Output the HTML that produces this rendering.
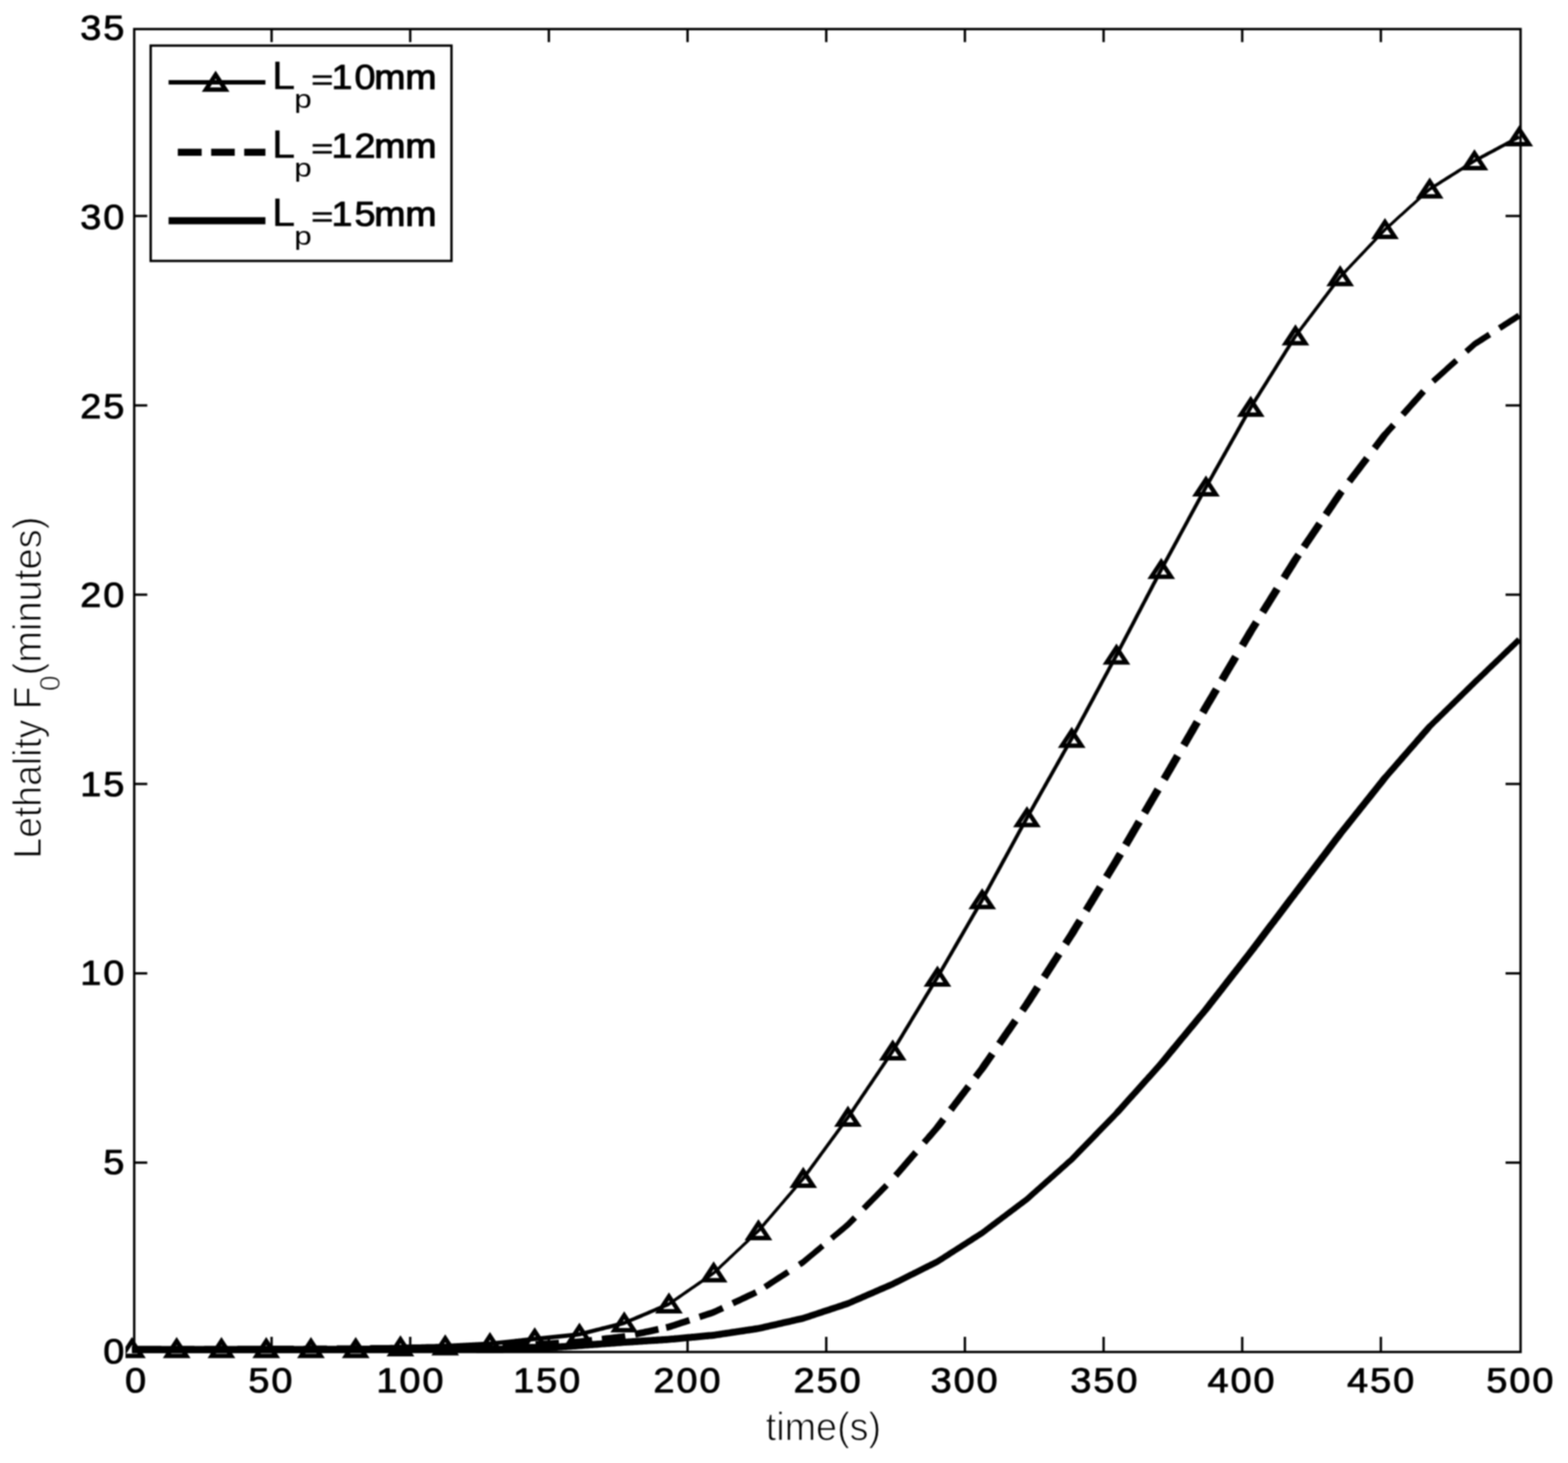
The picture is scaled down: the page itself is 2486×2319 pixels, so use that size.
<!DOCTYPE html>
<html lang="en"><head><meta charset="utf-8"><title>Lethality F0 versus time</title>
<style>html,body{margin:0;padding:0;background:#fff}body{width:2486px;height:2319px;overflow:hidden}svg{display:block;filter:blur(0.8px)}text{font-family:"Liberation Sans",sans-serif;fill:#000}.b{stroke:#000;stroke-width:1.25px;stroke-linejoin:round;letter-spacing:2.85px}.t{stroke:#fff;stroke-width:1.5px}</style></head><body>
<svg width="2486" height="2319" viewBox="0 0 2486 2319">
<rect x="0" y="0" width="2486" height="2319" fill="#fff"/>
<g fill="#000" stroke="none">
<path d="M209.2,2141.4 L211.6,2141.4 L214.1,2141.4 L216.5,2141.4 L219.0,2141.4 L221.4,2141.4 L223.9,2141.4 L226.3,2141.4 L228.8,2141.4 L231.2,2141.4 L233.7,2141.4 L236.1,2141.4 L238.6,2141.4 L241.0,2141.4 L243.5,2141.4 L245.9,2141.4 L248.3,2141.4 L250.8,2141.4 L253.2,2141.4 L255.7,2141.4 L258.1,2141.4 L260.6,2141.4 L263.0,2141.4 L265.5,2141.4 L267.9,2141.4 L270.4,2141.4 L272.8,2141.4 L275.3,2141.4 L277.7,2141.4 L280.1,2141.4 L282.6,2141.4 L285.0,2141.4 L287.5,2141.4 L289.9,2141.4 L292.4,2141.4 L294.8,2141.4 L297.3,2141.4 L299.7,2141.4 L302.2,2141.4 L304.6,2141.4 L307.1,2141.4 L309.5,2141.4 L312.0,2141.4 L314.4,2141.4 L316.8,2141.4 L319.3,2141.4 L321.7,2141.4 L324.2,2141.4 L326.6,2141.4 L329.1,2141.4 L331.5,2141.4 L334.0,2141.4 L336.4,2141.4 L338.9,2141.4 L341.3,2141.4 L343.8,2141.4 L346.2,2141.4 L348.7,2141.4 L351.1,2141.4 L353.5,2141.4 L356.0,2141.4 L358.4,2141.4 L360.9,2141.4 L363.3,2141.4 L365.8,2141.4 L368.2,2141.4 L370.7,2141.4 L373.1,2141.4 L375.6,2141.4 L378.0,2141.4 L380.5,2141.4 L382.9,2141.4 L385.4,2141.4 L387.8,2141.4 L390.2,2141.4 L392.7,2141.4 L395.1,2141.4 L397.6,2141.4 L400.0,2141.4 L402.5,2141.4 L404.9,2141.4 L407.4,2141.4 L409.8,2141.4 L412.3,2141.4 L414.7,2141.4 L417.2,2141.4 L419.6,2141.4 L422.1,2141.4 L424.5,2141.4 L426.9,2141.4 L429.4,2141.4 L431.8,2141.4 L434.3,2141.4 L436.7,2141.4 L439.2,2141.4 L441.6,2141.4 L444.1,2141.4 L446.5,2141.4 L449.0,2141.4 L451.4,2141.4 L453.9,2141.4 L456.3,2141.4 L458.7,2141.4 L461.2,2141.4 L463.6,2141.4 L466.1,2141.4 L468.5,2141.4 L471.0,2141.4 L473.4,2141.4 L475.9,2141.4 L478.3,2141.4 L480.8,2141.4 L483.2,2141.4 L485.7,2141.4 L488.1,2141.4 L490.6,2141.4 L493.0,2141.4 L495.4,2141.4 L497.9,2141.4 L500.3,2141.4 L502.8,2141.4 L505.2,2141.4 L507.7,2141.4 L510.1,2141.4 L512.6,2141.4 L515.0,2141.4 L517.5,2141.4 L519.9,2141.4 L522.4,2141.4 L524.8,2141.4 L527.3,2141.4 L529.7,2141.4 L532.1,2141.4 L534.6,2141.4 L537.0,2141.4 L539.5,2141.4 L541.9,2141.4 L544.4,2141.4 L546.8,2141.4 L549.3,2141.4 L551.7,2141.4 L554.2,2141.4 L556.6,2141.4 L559.1,2141.4 L561.5,2141.4 L564.0,2141.4 L566.5,2141.3 L569.0,2141.2 L571.4,2141.1 L573.9,2141.0 L576.3,2140.9 L578.8,2140.8 L581.2,2140.7 L583.7,2140.6 L586.1,2140.5 L588.6,2140.4 L591.0,2140.3 L593.4,2140.2 L595.9,2140.1 L598.3,2140.0 L600.8,2139.9 L603.2,2139.8 L605.7,2139.7 L608.1,2139.6 L610.6,2139.5 L613.0,2139.4 L615.5,2139.3 L617.9,2139.2 L620.4,2139.1 L622.8,2139.0 L625.3,2138.9 L627.7,2138.8 L630.1,2138.7 L632.6,2138.6 L635.0,2138.5 L637.4,2138.4 L639.9,2138.4 L642.3,2138.3 L644.8,2138.3 L647.2,2138.2 L649.7,2138.2 L652.1,2138.1 L654.5,2138.1 L657.0,2138.0 L659.4,2138.0 L661.9,2137.9 L664.3,2137.9 L666.8,2137.8 L669.2,2137.8 L671.7,2137.7 L674.1,2137.6 L676.6,2137.6 L679.0,2137.5 L681.5,2137.5 L683.9,2137.4 L686.4,2137.4 L688.8,2137.3 L691.2,2137.3 L693.7,2137.2 L696.1,2137.2 L698.6,2137.1 L701.0,2137.1 L703.5,2137.0 L706.0,2137.0 L708.5,2136.8 L710.9,2136.7 L713.4,2136.6 L715.8,2136.4 L718.3,2136.3 L720.7,2136.2 L723.2,2136.1 L725.6,2135.9 L728.0,2135.8 L730.5,2135.7 L732.9,2135.6 L735.4,2135.4 L737.8,2135.3 L740.3,2135.2 L742.7,2135.1 L745.2,2135.0 L747.6,2134.8 L750.1,2134.7 L752.5,2134.6 L755.0,2134.5 L757.4,2134.3 L759.8,2134.2 L762.3,2134.1 L764.7,2134.0 L767.2,2133.8 L769.6,2133.7 L772.1,2133.6 L774.5,2133.5 L777.1,2133.3 L779.6,2133.0 L782.0,2132.7 L784.5,2132.5 L786.9,2132.2 L789.4,2132.0 L791.8,2131.7 L794.3,2131.5 L796.7,2131.2 L799.2,2130.9 L801.6,2130.7 L804.1,2130.4 L806.5,2130.2 L809.0,2129.9 L811.4,2129.6 L813.9,2129.4 L816.3,2129.1 L818.7,2128.9 L821.2,2128.6 L823.6,2128.3 L826.1,2128.1 L828.5,2127.8 L831.0,2127.6 L833.4,2127.3 L835.9,2127.1 L838.3,2126.8 L840.8,2126.5 L843.2,2126.3 L845.7,2126.0 L848.1,2125.8 L850.5,2125.5 L853.0,2125.3 L855.4,2125.0 L857.9,2124.7 L860.3,2124.5 L862.8,2124.2 L865.2,2124.0 L867.7,2123.7 L870.1,2123.5 L872.6,2123.2 L875.0,2123.0 L877.5,2122.7 L879.9,2122.4 L882.4,2122.2 L884.8,2121.9 L887.2,2121.7 L889.7,2121.4 L892.1,2121.2 L894.6,2120.9 L897.0,2120.7 L899.5,2120.4 L901.9,2120.1 L904.4,2119.9 L906.8,2119.6 L909.3,2119.4 L911.7,2119.1 L914.2,2118.9 L916.6,2118.6 L919.3,2118.2 L921.9,2117.5 L924.4,2116.9 L926.8,2116.3 L929.3,2115.7 L931.7,2115.0 L934.2,2114.4 L936.6,2113.8 L939.1,2113.2 L941.5,2112.6 L944.0,2111.9 L946.4,2111.3 L948.8,2110.7 L951.3,2110.1 L953.7,2109.5 L956.2,2108.9 L958.6,2108.2 L961.1,2107.6 L963.5,2107.0 L966.0,2106.4 L968.4,2105.8 L970.9,2105.2 L973.3,2104.5 L975.8,2103.9 L978.2,2103.3 L980.7,2102.7 L983.1,2102.1 L985.5,2101.5 L988.0,2100.8 L990.6,2100.0 L993.2,2098.7 L995.7,2097.7 L998.1,2096.7 L1000.6,2095.6 L1003.0,2094.6 L1005.5,2093.5 L1007.9,2092.5 L1010.4,2091.5 L1012.8,2090.4 L1015.3,2089.4 L1017.7,2088.4 L1020.1,2087.3 L1022.6,2086.3 L1025.0,2085.2 L1027.5,2084.2 L1029.9,2083.2 L1032.4,2082.1 L1034.8,2081.1 L1037.3,2080.1 L1039.7,2079.0 L1042.2,2078.0 L1044.6,2076.9 L1047.1,2075.9 L1049.5,2074.9 L1051.9,2073.8 L1054.4,2072.8 L1056.8,2071.8 L1059.3,2070.7 L1061.9,2069.3 L1064.5,2067.4 L1066.9,2065.7 L1069.4,2064.0 L1071.8,2062.3 L1074.2,2060.6 L1076.7,2058.9 L1079.1,2057.2 L1081.6,2055.5 L1084.0,2053.8 L1086.5,2052.1 L1088.9,2050.4 L1091.4,2048.7 L1093.8,2047.0 L1096.3,2045.3 L1098.7,2043.6 L1101.2,2042.0 L1103.6,2040.3 L1106.1,2038.6 L1108.5,2036.9 L1110.9,2035.2 L1113.4,2033.5 L1115.8,2031.8 L1118.3,2030.1 L1120.7,2028.4 L1123.2,2026.7 L1125.6,2025.0 L1128.1,2023.3 L1130.5,2021.6 L1133.0,2019.7 L1135.6,2017.3 L1138.1,2015.0 L1140.5,2012.7 L1143.0,2010.4 L1145.4,2008.1 L1147.9,2005.8 L1150.3,2003.5 L1152.7,2001.2 L1155.2,1998.9 L1157.6,1996.6 L1160.1,1994.2 L1162.5,1991.9 L1165.0,1989.6 L1167.4,1987.3 L1169.9,1985.0 L1172.3,1982.7 L1174.8,1980.4 L1177.2,1978.1 L1179.7,1975.8 L1182.1,1973.5 L1184.6,1971.2 L1187.0,1968.9 L1189.4,1966.6 L1191.9,1964.3 L1194.3,1961.9 L1196.8,1959.6 L1199.2,1957.3 L1201.7,1955.0 L1204.3,1952.7 L1206.8,1949.8 L1209.3,1946.9 L1211.7,1944.1 L1214.2,1941.2 L1216.6,1938.3 L1219.1,1935.5 L1221.5,1932.6 L1224.0,1929.8 L1226.4,1926.9 L1228.9,1924.1 L1231.3,1921.2 L1233.7,1918.4 L1236.2,1915.5 L1238.6,1912.6 L1241.1,1909.8 L1243.5,1906.9 L1246.0,1904.1 L1248.4,1901.2 L1250.9,1898.4 L1253.3,1895.5 L1255.8,1892.7 L1258.2,1889.8 L1260.7,1887.0 L1263.1,1884.1 L1265.6,1881.2 L1268.0,1878.4 L1270.4,1875.5 L1272.9,1872.7 L1275.5,1869.8 L1278.0,1866.4 L1280.5,1863.1 L1282.9,1859.7 L1285.4,1856.4 L1287.8,1853.0 L1290.3,1849.7 L1292.7,1846.4 L1295.2,1843.0 L1297.6,1839.7 L1300.1,1836.3 L1302.5,1833.0 L1304.9,1829.6 L1307.4,1826.3 L1309.8,1822.9 L1312.3,1819.6 L1314.7,1816.2 L1317.2,1812.9 L1319.6,1809.6 L1322.1,1806.2 L1324.5,1802.9 L1327.0,1799.5 L1329.4,1796.2 L1331.9,1792.8 L1334.3,1789.5 L1336.8,1786.1 L1339.2,1782.8 L1341.6,1779.5 L1344.1,1776.1 L1346.6,1772.7 L1349.1,1769.1 L1351.6,1765.5 L1354.0,1761.9 L1356.5,1758.2 L1358.9,1754.6 L1361.3,1751.0 L1363.8,1747.4 L1366.2,1743.7 L1368.7,1740.1 L1371.1,1736.5 L1373.6,1732.9 L1376.0,1729.2 L1378.5,1725.6 L1380.9,1722.0 L1383.4,1718.4 L1385.8,1714.7 L1388.3,1711.1 L1390.7,1707.5 L1393.2,1703.9 L1395.6,1700.2 L1398.0,1696.6 L1400.5,1693.0 L1402.9,1689.4 L1405.4,1685.8 L1407.8,1682.1 L1410.3,1678.5 L1412.7,1674.9 L1415.2,1671.3 L1417.7,1667.6 L1420.2,1663.5 L1422.7,1659.5 L1425.1,1655.5 L1427.6,1651.4 L1430.0,1647.4 L1432.5,1643.4 L1434.9,1639.3 L1437.4,1635.3 L1439.8,1631.2 L1442.3,1627.2 L1444.7,1623.2 L1447.1,1619.1 L1449.6,1615.1 L1452.0,1611.0 L1454.5,1607.0 L1456.9,1603.0 L1459.4,1598.9 L1461.8,1594.9 L1464.3,1590.9 L1466.7,1586.8 L1469.2,1582.8 L1471.6,1578.7 L1474.1,1574.7 L1476.5,1570.7 L1479.0,1566.6 L1481.4,1562.6 L1483.8,1558.6 L1486.3,1554.5 L1488.8,1550.5 L1491.3,1546.2 L1493.7,1542.0 L1496.1,1537.8 L1498.6,1533.5 L1501.0,1529.3 L1503.5,1525.1 L1505.9,1520.8 L1508.4,1516.6 L1510.8,1512.4 L1513.3,1508.1 L1515.7,1503.9 L1518.2,1499.7 L1520.6,1495.4 L1523.1,1491.2 L1525.5,1487.0 L1528.0,1482.8 L1530.4,1478.5 L1532.8,1474.3 L1535.3,1470.1 L1537.7,1465.8 L1540.2,1461.6 L1542.6,1457.4 L1545.1,1453.1 L1547.5,1448.9 L1550.0,1444.7 L1552.4,1440.4 L1554.9,1436.2 L1557.3,1432.0 L1559.8,1427.7 L1562.3,1423.2 L1564.7,1418.7 L1567.1,1414.2 L1569.6,1409.8 L1572.0,1405.3 L1574.5,1400.8 L1576.9,1396.3 L1579.4,1391.8 L1581.8,1387.3 L1584.3,1382.9 L1586.7,1378.4 L1589.2,1373.9 L1591.6,1369.4 L1594.1,1364.9 L1596.5,1360.5 L1599.0,1356.0 L1601.4,1351.5 L1603.8,1347.0 L1606.3,1342.5 L1608.7,1338.0 L1611.2,1333.6 L1613.6,1329.1 L1616.1,1324.6 L1618.5,1320.1 L1621.0,1315.6 L1623.4,1311.1 L1625.9,1306.7 L1628.3,1302.2 L1630.7,1297.7 L1633.2,1293.4 L1635.6,1289.1 L1638.1,1284.7 L1640.5,1280.4 L1643.0,1276.0 L1645.4,1271.7 L1647.9,1267.4 L1650.3,1263.0 L1652.7,1258.7 L1655.2,1254.3 L1657.6,1250.0 L1660.1,1245.7 L1662.5,1241.3 L1665.0,1237.0 L1667.4,1232.7 L1669.9,1228.3 L1672.3,1224.0 L1674.8,1219.6 L1677.2,1215.3 L1679.7,1211.0 L1682.1,1206.6 L1684.6,1202.3 L1687.0,1198.0 L1689.4,1193.6 L1691.9,1189.3 L1694.3,1184.9 L1696.8,1180.6 L1699.2,1176.3 L1701.7,1171.9 L1704.2,1167.3 L1706.6,1162.8 L1709.1,1158.2 L1711.5,1153.7 L1713.9,1149.1 L1716.4,1144.6 L1718.8,1140.0 L1721.3,1135.5 L1723.7,1130.9 L1726.2,1126.4 L1728.6,1121.8 L1731.1,1117.3 L1733.5,1112.7 L1736.0,1108.2 L1738.4,1103.6 L1740.9,1099.1 L1743.3,1094.5 L1745.8,1089.9 L1748.2,1085.4 L1750.6,1080.8 L1753.1,1076.3 L1755.5,1071.7 L1758.0,1067.2 L1760.4,1062.6 L1762.9,1058.1 L1765.3,1053.5 L1767.8,1049.0 L1770.2,1044.4 L1772.7,1039.9 L1775.1,1035.2 L1777.6,1030.5 L1780.0,1025.8 L1782.5,1021.1 L1784.9,1016.5 L1787.4,1011.8 L1789.8,1007.1 L1792.3,1002.4 L1794.7,997.7 L1797.2,993.1 L1799.6,988.4 L1802.0,983.7 L1804.5,979.0 L1806.9,974.3 L1809.4,969.7 L1811.8,965.0 L1814.3,960.3 L1816.7,955.6 L1819.2,950.9 L1821.6,946.3 L1824.1,941.6 L1826.5,936.9 L1829.0,932.2 L1831.4,927.5 L1833.9,922.9 L1836.3,918.2 L1838.7,913.5 L1841.2,908.8 L1843.6,904.2 L1846.1,899.7 L1848.5,895.2 L1850.9,890.7 L1853.4,886.2 L1855.8,881.7 L1858.3,877.2 L1860.7,872.7 L1863.2,868.2 L1865.6,863.7 L1868.1,859.2 L1870.5,854.7 L1873.0,850.1 L1875.4,845.6 L1877.9,841.1 L1880.3,836.6 L1882.8,832.1 L1885.2,827.6 L1887.6,823.1 L1890.1,818.6 L1892.5,814.1 L1895.0,809.6 L1897.4,805.1 L1899.9,800.6 L1902.3,796.1 L1904.8,791.6 L1907.2,787.1 L1909.7,782.6 L1912.1,778.1 L1914.5,773.6 L1917.0,769.3 L1919.4,764.9 L1921.9,760.6 L1924.3,756.2 L1926.8,751.8 L1929.2,747.5 L1931.7,743.1 L1934.1,738.8 L1936.6,734.4 L1939.0,730.1 L1941.4,725.7 L1943.9,721.4 L1946.3,717.0 L1948.8,712.7 L1951.2,708.3 L1953.7,703.9 L1956.1,699.6 L1958.6,695.2 L1961.0,690.9 L1963.5,686.5 L1965.9,682.2 L1968.4,677.8 L1970.8,673.5 L1973.3,669.1 L1975.7,664.7 L1978.1,660.4 L1980.6,656.0 L1983.0,651.7 L1985.4,647.4 L1987.8,643.5 L1990.2,639.6 L1992.7,635.7 L1995.1,631.8 L1997.6,627.9 L2000.0,624.0 L2002.5,620.1 L2004.9,616.2 L2007.4,612.3 L2009.8,608.4 L2012.2,604.5 L2014.7,600.6 L2017.1,596.7 L2019.6,592.7 L2022.0,588.8 L2024.5,584.9 L2026.9,581.0 L2029.4,577.1 L2031.8,573.2 L2034.3,569.3 L2036.7,565.4 L2039.2,561.5 L2041.6,557.6 L2044.1,553.7 L2046.5,549.8 L2048.9,545.9 L2051.4,542.0 L2053.8,538.1 L2056.1,534.2 L2058.4,531.0 L2060.9,527.8 L2063.3,524.6 L2065.8,521.3 L2068.2,518.1 L2070.7,514.9 L2073.1,511.6 L2075.6,508.4 L2078.0,505.1 L2080.5,501.9 L2082.9,498.7 L2085.3,495.4 L2087.8,492.2 L2090.2,488.9 L2092.7,485.7 L2095.1,482.5 L2097.6,479.2 L2100.0,476.0 L2102.5,472.8 L2104.9,469.5 L2107.4,466.3 L2109.8,463.0 L2112.3,459.8 L2114.7,456.6 L2117.2,453.3 L2119.6,450.1 L2122.0,446.9 L2124.5,443.6 L2126.8,440.4 L2129.1,437.9 L2131.5,435.3 L2134.0,432.7 L2136.4,430.2 L2138.8,427.6 L2141.3,425.0 L2143.7,422.4 L2146.2,419.8 L2148.6,417.3 L2151.1,414.7 L2153.5,412.1 L2156.0,409.5 L2158.4,406.9 L2160.9,404.4 L2163.3,401.8 L2165.8,399.2 L2168.2,396.6 L2170.7,394.0 L2173.1,391.5 L2175.5,388.9 L2178.0,386.3 L2180.4,383.7 L2182.9,381.1 L2185.3,378.6 L2187.8,376.0 L2190.2,373.4 L2192.7,370.8 L2195.1,368.3 L2197.5,365.7 L2199.8,363.5 L2202.3,361.3 L2204.7,359.1 L2207.2,356.9 L2209.6,354.7 L2212.1,352.5 L2214.5,350.2 L2216.9,348.0 L2219.4,345.8 L2221.8,343.6 L2224.3,341.4 L2226.7,339.2 L2229.2,337.0 L2231.6,334.7 L2234.1,332.5 L2236.5,330.3 L2239.0,328.1 L2241.4,325.9 L2243.9,323.7 L2246.3,321.5 L2248.7,319.2 L2251.2,317.0 L2253.6,314.8 L2256.1,312.6 L2258.5,310.4 L2261.0,308.2 L2263.4,306.0 L2265.9,303.8 L2268.2,301.7 L2270.6,300.4 L2273.0,298.9 L2275.5,297.3 L2277.9,295.8 L2280.4,294.2 L2282.8,292.7 L2285.2,291.2 L2287.7,289.6 L2290.1,288.1 L2292.6,286.5 L2295.0,285.0 L2297.5,283.4 L2299.9,281.9 L2302.4,280.3 L2304.8,278.8 L2307.3,277.3 L2309.7,275.7 L2312.2,274.2 L2314.6,272.6 L2317.1,271.1 L2319.5,269.5 L2321.9,268.0 L2324.4,266.4 L2326.8,264.9 L2329.3,263.4 L2331.7,261.8 L2334.2,260.3 L2336.6,258.7 L2339.0,257.3 L2341.4,256.1 L2343.9,254.8 L2346.3,253.5 L2348.8,252.2 L2351.2,250.8 L2353.7,249.5 L2356.1,248.2 L2358.6,246.9 L2361.0,245.6 L2363.4,244.3 L2365.9,243.0 L2368.3,241.7 L2370.8,240.4 L2373.2,239.1 L2375.7,237.7 L2378.1,236.4 L2380.6,235.1 L2383.0,233.8 L2385.5,232.5 L2387.9,231.2 L2390.4,229.9 L2392.8,228.6 L2395.3,227.3 L2397.7,225.9 L2400.1,224.6 L2402.6,223.3 L2405.0,222.0 L2407.5,220.7 L2409.9,219.4 L2407.4,214.6 L2404.9,215.9 L2402.5,217.2 L2400.0,218.5 L2397.6,219.8 L2395.1,221.2 L2392.7,222.5 L2390.2,223.8 L2387.8,225.1 L2385.3,226.4 L2382.9,227.7 L2380.5,229.0 L2378.0,230.3 L2375.6,231.6 L2373.1,232.9 L2370.7,234.3 L2368.2,235.6 L2365.8,236.9 L2363.3,238.2 L2360.9,239.5 L2358.4,240.8 L2356.0,242.1 L2353.5,243.4 L2351.1,244.7 L2348.6,246.1 L2346.2,247.4 L2343.8,248.7 L2341.3,250.0 L2338.9,251.3 L2336.4,252.7 L2333.9,254.4 L2331.4,255.9 L2329.0,257.5 L2326.5,259.0 L2324.1,260.6 L2321.6,262.1 L2319.2,263.6 L2316.8,265.2 L2314.3,266.7 L2311.9,268.3 L2309.4,269.8 L2307.0,271.4 L2304.5,272.9 L2302.1,274.5 L2299.6,276.0 L2297.2,277.5 L2294.7,279.1 L2292.3,280.6 L2289.8,282.2 L2287.4,283.7 L2284.9,285.3 L2282.5,286.8 L2280.1,288.4 L2277.6,289.9 L2275.2,291.4 L2272.7,293.0 L2270.3,294.5 L2267.8,296.1 L2265.3,297.9 L2262.7,300.3 L2260.3,302.5 L2257.8,304.7 L2255.4,306.9 L2252.9,309.1 L2250.5,311.3 L2248.1,313.6 L2245.6,315.8 L2243.2,318.0 L2240.7,320.2 L2238.3,322.4 L2235.8,324.6 L2233.4,326.8 L2230.9,329.1 L2228.5,331.3 L2226.0,333.5 L2223.6,335.7 L2221.1,337.9 L2218.7,340.1 L2216.2,342.3 L2213.8,344.6 L2211.4,346.8 L2208.9,349.0 L2206.5,351.2 L2204.0,353.4 L2201.6,355.6 L2199.1,357.8 L2196.7,360.0 L2194.1,362.3 L2191.6,364.9 L2189.1,367.5 L2186.7,370.1 L2184.3,372.6 L2181.8,375.2 L2179.4,377.8 L2176.9,380.4 L2174.5,383.0 L2172.0,385.5 L2169.6,388.1 L2167.1,390.7 L2164.7,393.3 L2162.2,395.9 L2159.8,398.4 L2157.3,401.0 L2154.9,403.6 L2152.4,406.2 L2150.0,408.8 L2147.6,411.3 L2145.1,413.9 L2142.7,416.5 L2140.2,419.1 L2137.8,421.7 L2135.3,424.2 L2132.9,426.8 L2130.4,429.4 L2128.0,432.0 L2125.5,434.5 L2122.9,437.2 L2120.3,440.5 L2117.9,443.7 L2115.4,446.9 L2113.0,450.2 L2110.5,453.4 L2108.1,456.6 L2105.6,459.9 L2103.2,463.1 L2100.7,466.4 L2098.3,469.6 L2095.8,472.8 L2093.4,476.1 L2091.0,479.3 L2088.5,482.6 L2086.1,485.8 L2083.6,489.0 L2081.2,492.3 L2078.7,495.5 L2076.3,498.7 L2073.8,502.0 L2071.4,505.2 L2068.9,508.5 L2066.5,511.7 L2064.0,514.9 L2061.6,518.2 L2059.2,521.4 L2056.7,524.6 L2054.3,527.9 L2051.7,531.2 L2049.1,535.1 L2046.6,539.0 L2044.2,542.9 L2041.7,546.8 L2039.3,550.7 L2036.8,554.6 L2034.4,558.5 L2031.9,562.4 L2029.5,566.3 L2027.0,570.2 L2024.6,574.1 L2022.2,578.0 L2019.7,581.9 L2017.3,585.9 L2014.8,589.8 L2012.4,593.7 L2009.9,597.6 L2007.5,601.5 L2005.0,605.4 L2002.6,609.3 L2000.1,613.2 L1997.7,617.1 L1995.2,621.0 L1992.8,624.9 L1990.3,628.8 L1987.9,632.7 L1985.5,636.6 L1983.0,640.5 L1980.5,644.4 L1978.0,648.8 L1975.5,653.2 L1973.1,657.5 L1970.6,661.9 L1968.2,666.3 L1965.7,670.6 L1963.3,675.0 L1960.8,679.3 L1958.4,683.7 L1956.0,688.0 L1953.5,692.4 L1951.1,696.7 L1948.6,701.1 L1946.2,705.4 L1943.7,709.8 L1941.3,714.2 L1938.8,718.5 L1936.4,722.9 L1933.9,727.2 L1931.5,731.6 L1929.0,735.9 L1926.6,740.3 L1924.1,744.6 L1921.7,749.0 L1919.3,753.4 L1916.8,757.7 L1914.4,762.1 L1911.9,766.4 L1909.5,770.8 L1907.0,775.3 L1904.5,779.8 L1902.1,784.3 L1899.7,788.8 L1897.2,793.3 L1894.8,797.8 L1892.3,802.3 L1889.9,806.8 L1887.4,811.3 L1885.0,815.8 L1882.5,820.3 L1880.1,824.9 L1877.6,829.4 L1875.2,833.9 L1872.7,838.4 L1870.3,842.9 L1867.8,847.4 L1865.4,851.9 L1863.0,856.4 L1860.5,860.9 L1858.1,865.4 L1855.6,869.9 L1853.2,874.4 L1850.7,878.9 L1848.3,883.4 L1845.8,887.9 L1843.4,892.4 L1840.9,896.9 L1838.5,901.4 L1836.0,906.1 L1833.6,910.8 L1831.1,915.5 L1828.7,920.2 L1826.2,924.8 L1823.8,929.5 L1821.3,934.2 L1818.9,938.9 L1816.4,943.6 L1814.0,948.2 L1811.6,952.9 L1809.1,957.6 L1806.7,962.3 L1804.2,967.0 L1801.8,971.6 L1799.3,976.3 L1796.9,981.0 L1794.4,985.7 L1792.0,990.4 L1789.5,995.0 L1787.1,999.7 L1784.6,1004.4 L1782.2,1009.1 L1779.7,1013.8 L1777.3,1018.4 L1774.9,1023.1 L1772.4,1027.8 L1770.0,1032.5 L1767.5,1037.1 L1765.1,1041.7 L1762.6,1046.2 L1760.2,1050.8 L1757.7,1055.3 L1755.3,1059.9 L1752.9,1064.4 L1750.4,1069.0 L1748.0,1073.5 L1745.5,1078.1 L1743.1,1082.6 L1740.6,1087.2 L1738.2,1091.7 L1735.7,1096.3 L1733.3,1100.8 L1730.8,1105.4 L1728.4,1109.9 L1725.9,1114.5 L1723.5,1119.1 L1721.0,1123.6 L1718.6,1128.2 L1716.2,1132.7 L1713.7,1137.3 L1711.3,1141.8 L1708.8,1146.4 L1706.4,1150.9 L1703.9,1155.5 L1701.5,1160.0 L1699.0,1164.6 L1696.6,1169.1 L1694.2,1173.4 L1691.7,1177.7 L1689.3,1182.1 L1686.8,1186.4 L1684.4,1190.8 L1681.9,1195.1 L1679.5,1199.4 L1677.0,1203.8 L1674.6,1208.1 L1672.2,1212.5 L1669.7,1216.8 L1667.3,1221.1 L1664.8,1225.5 L1662.4,1229.8 L1659.9,1234.1 L1657.5,1238.5 L1655.0,1242.8 L1652.6,1247.2 L1650.1,1251.5 L1647.7,1255.8 L1645.2,1260.2 L1642.8,1264.5 L1640.3,1268.8 L1637.9,1273.2 L1635.5,1277.5 L1633.0,1281.9 L1630.6,1286.2 L1628.1,1290.5 L1625.7,1294.9 L1623.2,1299.4 L1620.8,1303.9 L1618.3,1308.4 L1615.9,1312.8 L1613.4,1317.3 L1611.0,1321.8 L1608.5,1326.3 L1606.1,1330.8 L1603.6,1335.3 L1601.2,1339.7 L1598.7,1344.2 L1596.3,1348.7 L1593.8,1353.2 L1591.4,1357.7 L1588.9,1362.1 L1586.5,1366.6 L1584.1,1371.1 L1581.6,1375.6 L1579.2,1380.1 L1576.7,1384.6 L1574.3,1389.0 L1571.8,1393.5 L1569.4,1398.0 L1566.9,1402.5 L1564.5,1407.0 L1562.0,1411.5 L1559.6,1415.9 L1557.1,1420.4 L1554.7,1424.9 L1552.3,1429.1 L1549.8,1433.3 L1547.4,1437.5 L1545.0,1441.8 L1542.5,1446.0 L1540.1,1450.2 L1537.6,1454.5 L1535.2,1458.7 L1532.7,1462.9 L1530.3,1467.2 L1527.8,1471.4 L1525.4,1475.6 L1522.9,1479.9 L1520.5,1484.1 L1518.0,1488.3 L1515.6,1492.5 L1513.1,1496.8 L1510.7,1501.0 L1508.3,1505.2 L1505.8,1509.5 L1503.4,1513.7 L1500.9,1517.9 L1498.5,1522.2 L1496.0,1526.4 L1493.6,1530.6 L1491.1,1534.9 L1488.7,1539.1 L1486.2,1543.3 L1483.8,1547.5 L1481.4,1551.6 L1479.0,1555.6 L1476.5,1559.6 L1474.1,1563.7 L1471.6,1567.7 L1469.2,1571.7 L1466.7,1575.8 L1464.3,1579.8 L1461.8,1583.9 L1459.4,1587.9 L1456.9,1591.9 L1454.5,1596.0 L1452.1,1600.0 L1449.6,1604.1 L1447.2,1608.1 L1444.7,1612.1 L1442.3,1616.2 L1439.8,1620.2 L1437.4,1624.2 L1434.9,1628.3 L1432.5,1632.3 L1430.0,1636.4 L1427.6,1640.4 L1425.1,1644.4 L1422.7,1648.5 L1420.3,1652.5 L1417.8,1656.5 L1415.4,1660.6 L1413.0,1664.6 L1410.6,1668.2 L1408.2,1671.8 L1405.7,1675.4 L1403.3,1679.1 L1400.8,1682.7 L1398.4,1686.3 L1396.0,1689.9 L1393.5,1693.6 L1391.1,1697.2 L1388.6,1700.8 L1386.2,1704.4 L1383.7,1708.1 L1381.3,1711.7 L1378.8,1715.3 L1376.4,1718.9 L1373.9,1722.6 L1371.5,1726.2 L1369.0,1729.8 L1366.6,1733.4 L1364.1,1737.1 L1361.7,1740.7 L1359.3,1744.3 L1356.8,1747.9 L1354.4,1751.5 L1351.9,1755.2 L1349.5,1758.8 L1347.0,1762.4 L1344.6,1766.0 L1342.2,1769.7 L1339.8,1773.0 L1337.4,1776.3 L1334.9,1779.7 L1332.5,1783.0 L1330.0,1786.4 L1327.6,1789.7 L1325.1,1793.0 L1322.7,1796.4 L1320.2,1799.7 L1317.8,1803.1 L1315.3,1806.4 L1312.9,1809.8 L1310.5,1813.1 L1308.0,1816.5 L1305.6,1819.8 L1303.1,1823.2 L1300.7,1826.5 L1298.2,1829.8 L1295.8,1833.2 L1293.3,1836.5 L1290.9,1839.9 L1288.4,1843.2 L1286.0,1846.6 L1283.5,1849.9 L1281.1,1853.3 L1278.6,1856.6 L1276.2,1859.9 L1273.8,1863.3 L1271.4,1866.6 L1269.1,1869.4 L1266.7,1872.3 L1264.2,1875.1 L1261.8,1878.0 L1259.3,1880.9 L1256.9,1883.7 L1254.4,1886.6 L1252.0,1889.4 L1249.5,1892.3 L1247.1,1895.1 L1244.6,1898.0 L1242.2,1900.8 L1239.8,1903.7 L1237.3,1906.6 L1234.9,1909.4 L1232.4,1912.3 L1230.0,1915.1 L1227.5,1918.0 L1225.1,1920.8 L1222.6,1923.7 L1220.2,1926.5 L1217.7,1929.4 L1215.3,1932.2 L1212.8,1935.1 L1210.4,1938.0 L1208.0,1940.8 L1205.5,1943.7 L1203.1,1946.5 L1200.7,1949.3 L1198.4,1951.6 L1196.0,1953.9 L1193.5,1956.2 L1191.1,1958.5 L1188.6,1960.8 L1186.2,1963.1 L1183.8,1965.4 L1181.3,1967.7 L1178.9,1970.0 L1176.4,1972.3 L1174.0,1974.7 L1171.5,1977.0 L1169.1,1979.3 L1166.6,1981.6 L1164.2,1983.9 L1161.7,1986.2 L1159.3,1988.5 L1156.8,1990.8 L1154.4,1993.1 L1151.9,1995.4 L1149.5,1997.7 L1147.1,2000.0 L1144.6,2002.3 L1142.2,2004.6 L1139.7,2007.0 L1137.3,2009.3 L1134.8,2011.6 L1132.4,2013.9 L1130.1,2016.1 L1127.7,2017.5 L1125.2,2019.2 L1122.8,2020.9 L1120.3,2022.6 L1117.9,2024.3 L1115.5,2026.0 L1113.0,2027.7 L1110.6,2029.4 L1108.1,2031.1 L1105.7,2032.8 L1103.2,2034.5 L1100.8,2036.2 L1098.3,2037.9 L1095.9,2039.6 L1093.4,2041.3 L1091.0,2042.9 L1088.5,2044.6 L1086.1,2046.3 L1083.7,2048.0 L1081.2,2049.7 L1078.8,2051.4 L1076.3,2053.1 L1073.9,2054.8 L1071.4,2056.5 L1069.0,2058.2 L1066.5,2059.9 L1064.1,2061.6 L1061.6,2063.3 L1059.3,2064.7 L1057.0,2065.4 L1054.6,2066.4 L1052.1,2067.4 L1049.7,2068.5 L1047.2,2069.5 L1044.8,2070.6 L1042.3,2071.6 L1039.9,2072.6 L1037.4,2073.7 L1035.0,2074.7 L1032.6,2075.7 L1030.1,2076.8 L1027.7,2077.8 L1025.2,2078.9 L1022.8,2079.9 L1020.3,2080.9 L1017.9,2082.0 L1015.4,2083.0 L1013.0,2084.0 L1010.5,2085.1 L1008.1,2086.1 L1005.6,2087.2 L1003.2,2088.2 L1000.7,2089.2 L998.3,2090.3 L995.9,2091.3 L993.4,2092.3 L991.0,2093.4 L988.7,2094.2 L986.4,2094.6 L984.0,2095.2 L981.5,2095.8 L979.1,2096.4 L976.6,2097.1 L974.2,2097.7 L971.7,2098.3 L969.3,2098.9 L966.8,2099.5 L964.4,2100.2 L962.0,2100.8 L959.5,2101.4 L957.1,2102.0 L954.6,2102.6 L952.2,2103.2 L949.7,2103.9 L947.3,2104.5 L944.8,2105.1 L942.4,2105.7 L939.9,2106.3 L937.5,2106.9 L935.0,2107.6 L932.6,2108.2 L930.1,2108.8 L927.7,2109.4 L925.3,2110.0 L922.8,2110.6 L920.4,2111.3 L918.1,2111.8 L915.9,2111.9 L913.5,2112.1 L911.0,2112.4 L908.6,2112.7 L906.1,2112.9 L903.7,2113.2 L901.2,2113.4 L898.8,2113.7 L896.3,2113.9 L893.9,2114.2 L891.4,2114.4 L889.0,2114.7 L886.5,2115.0 L884.1,2115.2 L881.7,2115.5 L879.2,2115.7 L876.8,2116.0 L874.3,2116.2 L871.9,2116.5 L869.4,2116.7 L867.0,2117.0 L864.5,2117.3 L862.1,2117.5 L859.6,2117.8 L857.2,2118.0 L854.7,2118.3 L852.3,2118.5 L849.8,2118.8 L847.4,2119.0 L844.9,2119.3 L842.5,2119.6 L840.1,2119.8 L837.6,2120.1 L835.2,2120.3 L832.7,2120.6 L830.3,2120.8 L827.8,2121.1 L825.4,2121.4 L822.9,2121.6 L820.5,2121.9 L818.0,2122.1 L815.6,2122.4 L813.1,2122.7 L810.7,2122.9 L808.2,2123.2 L805.8,2123.4 L803.4,2123.7 L800.9,2124.0 L798.5,2124.2 L796.0,2124.5 L793.6,2124.7 L791.1,2125.0 L788.7,2125.2 L786.2,2125.5 L783.8,2125.8 L781.3,2126.0 L778.9,2126.3 L776.5,2126.5 L774.2,2126.6 L771.7,2126.7 L769.3,2126.8 L766.8,2127.0 L764.4,2127.1 L761.9,2127.2 L759.5,2127.3 L757.1,2127.5 L754.6,2127.6 L752.2,2127.7 L749.7,2127.8 L747.3,2128.0 L744.8,2128.1 L742.4,2128.2 L739.9,2128.3 L737.5,2128.4 L735.0,2128.6 L732.6,2128.7 L730.1,2128.8 L727.7,2128.9 L725.2,2129.1 L722.8,2129.2 L720.4,2129.3 L717.9,2129.4 L715.5,2129.6 L713.0,2129.7 L710.6,2129.8 L708.1,2129.9 L705.7,2130.0 L703.3,2130.1 L700.9,2130.1 L698.4,2130.2 L696.0,2130.2 L693.5,2130.3 L691.1,2130.3 L688.7,2130.4 L686.2,2130.4 L683.8,2130.5 L681.3,2130.5 L678.9,2130.6 L676.4,2130.6 L674.0,2130.7 L671.5,2130.7 L669.1,2130.8 L666.6,2130.9 L664.2,2130.9 L661.7,2131.0 L659.3,2131.0 L656.8,2131.1 L654.4,2131.1 L652.0,2131.2 L649.5,2131.2 L647.1,2131.3 L644.6,2131.3 L642.2,2131.4 L639.7,2131.4 L637.3,2131.5 L634.8,2131.5 L632.3,2131.6 L629.9,2131.7 L627.4,2131.8 L625.0,2131.9 L622.5,2132.0 L620.1,2132.1 L617.6,2132.2 L615.2,2132.3 L612.7,2132.4 L610.3,2132.5 L607.8,2132.6 L605.4,2132.7 L603.0,2132.8 L600.5,2132.9 L598.1,2133.0 L595.6,2133.1 L593.2,2133.2 L590.7,2133.3 L588.3,2133.4 L585.8,2133.5 L583.4,2133.6 L580.9,2133.7 L578.5,2133.8 L576.0,2133.9 L573.6,2134.0 L571.1,2134.1 L568.7,2134.2 L566.3,2134.3 L563.9,2134.4 L561.5,2134.4 L559.1,2134.4 L556.6,2134.4 L554.2,2134.4 L551.7,2134.4 L549.3,2134.4 L546.8,2134.4 L544.4,2134.4 L541.9,2134.4 L539.5,2134.4 L537.0,2134.4 L534.6,2134.4 L532.1,2134.4 L529.7,2134.4 L527.3,2134.4 L524.8,2134.4 L522.4,2134.4 L519.9,2134.4 L517.5,2134.4 L515.0,2134.4 L512.6,2134.4 L510.1,2134.4 L507.7,2134.4 L505.2,2134.4 L502.8,2134.4 L500.3,2134.4 L497.9,2134.4 L495.4,2134.4 L493.0,2134.4 L490.6,2134.4 L488.1,2134.4 L485.7,2134.4 L483.2,2134.4 L480.8,2134.4 L478.3,2134.4 L475.9,2134.4 L473.4,2134.4 L471.0,2134.4 L468.5,2134.4 L466.1,2134.4 L463.6,2134.4 L461.2,2134.4 L458.7,2134.4 L456.3,2134.4 L453.9,2134.4 L451.4,2134.4 L449.0,2134.4 L446.5,2134.4 L444.1,2134.4 L441.6,2134.4 L439.2,2134.4 L436.7,2134.4 L434.3,2134.4 L431.8,2134.4 L429.4,2134.4 L426.9,2134.4 L424.5,2134.4 L422.1,2134.4 L419.6,2134.4 L417.2,2134.4 L414.7,2134.4 L412.3,2134.4 L409.8,2134.4 L407.4,2134.4 L404.9,2134.4 L402.5,2134.4 L400.0,2134.4 L397.6,2134.4 L395.1,2134.4 L392.7,2134.4 L390.2,2134.4 L387.8,2134.4 L385.4,2134.4 L382.9,2134.4 L380.5,2134.4 L378.0,2134.4 L375.6,2134.4 L373.1,2134.4 L370.7,2134.4 L368.2,2134.4 L365.8,2134.4 L363.3,2134.4 L360.9,2134.4 L358.4,2134.4 L356.0,2134.4 L353.5,2134.4 L351.1,2134.4 L348.7,2134.4 L346.2,2134.4 L343.8,2134.4 L341.3,2134.4 L338.9,2134.4 L336.4,2134.4 L334.0,2134.4 L331.5,2134.4 L329.1,2134.4 L326.6,2134.4 L324.2,2134.4 L321.7,2134.4 L319.3,2134.4 L316.8,2134.4 L314.4,2134.4 L312.0,2134.4 L309.5,2134.4 L307.1,2134.4 L304.6,2134.4 L302.2,2134.4 L299.7,2134.4 L297.3,2134.4 L294.8,2134.4 L292.4,2134.4 L289.9,2134.4 L287.5,2134.4 L285.0,2134.4 L282.6,2134.4 L280.1,2134.4 L277.7,2134.4 L275.3,2134.4 L272.8,2134.4 L270.4,2134.4 L267.9,2134.4 L265.5,2134.4 L263.0,2134.4 L260.6,2134.4 L258.1,2134.4 L255.7,2134.4 L253.2,2134.4 L250.8,2134.4 L248.3,2134.4 L245.9,2134.4 L243.5,2134.4 L241.0,2134.4 L238.6,2134.4 L236.1,2134.4 L233.7,2134.4 L231.2,2134.4 L228.8,2134.4 L226.3,2134.4 L223.9,2134.4 L221.4,2134.4 L219.0,2134.4 L216.5,2134.4 L214.1,2134.4 L211.6,2134.4 L209.2,2134.4 Z"/>
<path d="M218.7,2144.8 L222.0,2144.8 L225.4,2144.8 L228.7,2144.8 L232.1,2144.8 L235.5,2144.8 L238.8,2144.8 L242.2,2144.8 L245.6,2144.8 L248.9,2144.8 L252.3,2144.8 L255.7,2144.8 L255.6,2133.5 L252.3,2133.5 L248.9,2133.5 L245.6,2133.5 L242.2,2133.5 L238.8,2133.5 L235.5,2133.5 L232.1,2133.5 L228.7,2133.5 L225.4,2133.5 L222.0,2133.5 L218.6,2133.5 Z M271.2,2144.8 L274.6,2144.8 L277.9,2144.7 L281.3,2144.7 L284.7,2144.7 L288.0,2144.7 L291.4,2144.7 L294.8,2144.7 L298.1,2144.7 L301.5,2144.7 L304.8,2144.7 L308.2,2144.7 L308.2,2133.4 L304.8,2133.4 L301.5,2133.4 L298.1,2133.4 L294.7,2133.4 L291.4,2133.4 L288.0,2133.4 L284.6,2133.4 L281.3,2133.4 L277.9,2133.5 L274.6,2133.5 L271.2,2133.5 Z M323.8,2144.7 L327.1,2144.7 L330.5,2144.7 L333.9,2144.7 L337.2,2144.7 L340.6,2144.6 L343.9,2144.6 L347.3,2144.6 L350.7,2144.6 L354.0,2144.6 L357.4,2144.6 L360.8,2144.6 L360.7,2133.3 L357.4,2133.3 L354.0,2133.3 L350.6,2133.3 L347.3,2133.3 L343.9,2133.3 L340.6,2133.4 L337.2,2133.4 L333.8,2133.4 L330.5,2133.4 L327.1,2133.4 L323.7,2133.4 Z M376.3,2144.6 L379.7,2144.6 L383.0,2144.5 L386.4,2144.5 L389.8,2144.5 L393.1,2144.5 L396.5,2144.5 L399.9,2144.5 L403.2,2144.5 L406.6,2144.5 L410.0,2144.5 L413.3,2144.5 L413.3,2133.2 L409.9,2133.2 L406.6,2133.2 L403.2,2133.2 L399.8,2133.2 L396.5,2133.2 L393.1,2133.2 L389.7,2133.2 L386.4,2133.2 L383.0,2133.3 L379.6,2133.3 L376.3,2133.3 Z M428.9,2144.4 L432.2,2144.4 L435.6,2144.4 L439.0,2144.4 L442.3,2144.4 L445.7,2144.3 L449.1,2144.3 L452.4,2144.3 L455.8,2144.3 L459.1,2144.3 L462.5,2144.3 L465.9,2144.3 L465.8,2133.0 L462.5,2133.0 L459.1,2133.0 L455.7,2133.0 L452.4,2133.0 L449.0,2133.0 L445.6,2133.1 L442.3,2133.1 L438.9,2133.1 L435.6,2133.1 L432.2,2133.1 L428.8,2133.1 Z M481.4,2144.2 L484.8,2144.2 L488.2,2144.2 L491.5,2144.2 L494.9,2144.1 L498.3,2144.1 L501.6,2144.1 L505.0,2144.1 L508.3,2144.1 L511.7,2144.0 L515.1,2144.0 L518.4,2144.0 L518.4,2132.7 L515.0,2132.7 L511.6,2132.7 L508.3,2132.8 L504.9,2132.8 L501.5,2132.8 L498.2,2132.8 L494.8,2132.9 L491.5,2132.9 L488.1,2132.9 L484.7,2132.9 L481.4,2132.9 Z M534.0,2143.9 L537.4,2143.9 L540.7,2143.8 L544.1,2143.8 L547.4,2143.8 L550.8,2143.8 L554.2,2143.8 L557.5,2143.7 L560.9,2143.7 L564.3,2143.7 L567.6,2143.6 L571.0,2143.6 L570.9,2132.3 L567.5,2132.4 L564.2,2132.4 L560.8,2132.4 L557.5,2132.4 L554.1,2132.5 L550.7,2132.5 L547.4,2132.5 L544.0,2132.5 L540.6,2132.6 L537.3,2132.6 L533.9,2132.6 Z M586.6,2143.5 L589.9,2143.4 L593.3,2143.4 L596.6,2143.4 L600.0,2143.3 L603.4,2143.3 L606.7,2143.3 L610.1,2143.2 L613.5,2143.2 L616.8,2143.1 L620.2,2143.1 L623.6,2143.1 L623.4,2131.8 L620.1,2131.8 L616.7,2131.9 L613.4,2131.9 L610.0,2131.9 L606.6,2132.0 L603.3,2132.0 L599.9,2132.0 L596.5,2132.1 L593.2,2132.1 L589.8,2132.1 L586.4,2132.2 Z M639.1,2142.9 L642.5,2142.8 L645.9,2142.8 L649.2,2142.7 L652.6,2142.7 L656.0,2142.6 L659.3,2142.6 L662.7,2142.5 L666.0,2142.5 L669.4,2142.4 L672.8,2142.3 L676.1,2142.3 L676.0,2131.0 L672.6,2131.1 L669.2,2131.1 L665.9,2131.2 L662.5,2131.2 L659.1,2131.3 L655.8,2131.4 L652.4,2131.4 L649.1,2131.5 L645.7,2131.5 L642.3,2131.6 L639.0,2131.6 Z M691.7,2142.0 L695.1,2142.0 L698.4,2141.9 L701.8,2141.9 L705.2,2141.8 L708.6,2141.7 L711.9,2141.6 L715.3,2141.6 L718.7,2141.5 L722.0,2141.4 L725.4,2141.3 L728.7,2141.2 L728.5,2130.0 L725.1,2130.1 L721.7,2130.2 L718.4,2130.2 L715.0,2130.3 L711.6,2130.4 L708.3,2130.5 L704.9,2130.6 L701.6,2130.6 L698.2,2130.7 L694.9,2130.7 L691.5,2130.8 Z M744.3,2140.8 L747.7,2140.7 L751.0,2140.7 L754.4,2140.6 L757.7,2140.5 L761.1,2140.4 L764.5,2140.3 L767.8,2140.2 L771.2,2140.1 L774.6,2140.0 L778.0,2139.9 L781.4,2139.8 L780.9,2128.6 L777.6,2128.7 L774.3,2128.8 L770.9,2128.9 L767.6,2129.0 L764.2,2129.1 L760.8,2129.2 L757.5,2129.2 L754.1,2129.3 L750.7,2129.4 L747.4,2129.5 L744.0,2129.6 Z M796.9,2139.2 L800.3,2139.0 L803.7,2138.9 L807.0,2138.8 L810.4,2138.6 L813.7,2138.5 L817.1,2138.4 L820.5,2138.2 L823.8,2138.1 L827.2,2138.0 L830.6,2137.8 L833.9,2137.7 L833.5,2126.5 L830.1,2126.6 L826.7,2126.8 L823.4,2126.9 L820.0,2127.0 L816.7,2127.2 L813.3,2127.3 L809.9,2127.4 L806.6,2127.6 L803.2,2127.7 L799.8,2127.8 L796.5,2128.0 Z M849.6,2137.0 L853.0,2136.8 L856.3,2136.6 L859.7,2136.3 L863.1,2136.1 L866.4,2135.9 L869.8,2135.7 L873.1,2135.5 L876.5,2135.3 L879.9,2135.1 L883.2,2134.8 L886.6,2134.6 L885.9,2123.5 L882.5,2123.7 L879.2,2123.9 L875.8,2124.2 L872.4,2124.4 L869.1,2124.6 L865.7,2124.8 L862.4,2125.0 L859.0,2125.2 L855.6,2125.4 L852.3,2125.7 L848.9,2125.9 Z M902.2,2133.6 L905.5,2133.4 L908.9,2133.2 L912.2,2133.0 L915.6,2132.8 L919.1,2132.5 L922.6,2132.1 L926.0,2131.7 L929.3,2131.3 L932.7,2130.9 L936.1,2130.5 L939.4,2130.2 L938.2,2119.2 L934.8,2119.6 L931.4,2120.0 L928.1,2120.4 L924.7,2120.8 L921.4,2121.2 L918.1,2121.5 L914.9,2121.7 L911.5,2121.9 L908.2,2122.1 L904.8,2122.3 L901.4,2122.5 Z M955.0,2128.3 L958.3,2128.0 L961.7,2127.6 L965.1,2127.2 L968.4,2126.8 L971.8,2126.4 L975.2,2126.0 L978.5,2125.6 L981.9,2125.2 L985.3,2124.8 L988.8,2124.4 L992.2,2123.8 L990.5,2113.0 L987.2,2113.6 L984.0,2113.9 L980.6,2114.3 L977.3,2114.7 L973.9,2115.1 L970.5,2115.5 L967.2,2115.9 L963.8,2116.2 L960.4,2116.6 L957.1,2117.0 L953.7,2117.4 Z M1008.0,2120.3 L1011.4,2119.6 L1014.8,2118.8 L1018.1,2118.1 L1021.5,2117.4 L1024.9,2116.6 L1028.2,2115.9 L1031.6,2115.2 L1035.0,2114.4 L1038.3,2113.7 L1041.7,2113.0 L1045.0,2112.3 L1042.8,2101.7 L1039.4,2102.5 L1036.0,2103.2 L1032.7,2103.9 L1029.3,2104.7 L1025.9,2105.4 L1022.6,2106.1 L1019.2,2106.9 L1015.8,2107.6 L1012.5,2108.3 L1009.1,2109.0 L1005.8,2109.8 Z M1057.2,2109.6 L1060.8,2108.8 L1064.4,2107.7 L1067.8,2106.5 L1071.2,2105.4 L1074.6,2104.3 L1077.9,2103.2 L1081.3,2102.1 L1084.6,2101.0 L1088.0,2099.9 L1091.4,2098.8 L1094.7,2097.7 L1091.5,2087.7 L1088.1,2088.8 L1084.7,2089.9 L1081.4,2091.0 L1078.0,2092.1 L1074.6,2093.2 L1071.3,2094.3 L1067.9,2095.4 L1064.6,2096.5 L1061.3,2097.6 L1058.1,2098.4 L1055.0,2099.1 Z M1110.6,2092.4 L1114.0,2091.3 L1117.4,2090.2 L1120.7,2089.1 L1124.1,2088.0 L1127.5,2086.9 L1130.9,2085.8 L1134.5,2084.3 L1138.1,2082.6 L1141.4,2081.0 L1144.8,2079.4 L1148.2,2077.9 L1143.8,2068.6 L1140.5,2070.2 L1137.1,2071.8 L1133.7,2073.4 L1130.5,2074.8 L1127.5,2075.9 L1124.2,2076.9 L1120.8,2078.1 L1117.5,2079.2 L1114.1,2080.3 L1110.7,2081.4 L1107.4,2082.5 Z M1164.0,2070.4 L1167.3,2068.8 L1170.7,2067.3 L1174.1,2065.7 L1177.4,2064.1 L1180.8,2062.5 L1184.2,2060.9 L1187.5,2059.3 L1190.9,2057.8 L1194.2,2056.2 L1197.6,2054.6 L1201.0,2053.0 L1196.6,2043.8 L1193.3,2045.4 L1189.9,2047.0 L1186.5,2048.5 L1183.2,2050.1 L1179.8,2051.7 L1176.4,2053.3 L1173.1,2054.9 L1169.7,2056.5 L1166.4,2058.0 L1163.0,2059.6 L1159.6,2061.2 Z M1215.4,2044.0 L1218.8,2041.9 L1222.2,2039.7 L1225.5,2037.5 L1228.9,2035.3 L1232.3,2033.1 L1235.6,2030.9 L1239.0,2028.8 L1242.4,2026.6 L1245.7,2024.4 L1249.1,2022.2 L1252.4,2020.0 L1247.2,2011.9 L1243.8,2014.1 L1240.4,2016.2 L1237.1,2018.4 L1233.7,2020.6 L1230.3,2022.8 L1227.0,2025.0 L1223.6,2027.2 L1220.2,2029.3 L1216.9,2031.5 L1213.5,2033.7 L1210.2,2035.9 Z M1270.0,2008.6 L1273.5,2006.4 L1277.0,2003.8 L1280.5,2000.8 L1283.8,1998.0 L1287.2,1995.1 L1290.6,1992.3 L1293.9,1989.5 L1297.3,1986.7 L1300.7,1983.9 L1304.0,1981.1 L1307.4,1978.3 L1301.4,1971.1 L1298.1,1973.9 L1294.7,1976.7 L1291.3,1979.6 L1288.0,1982.4 L1284.6,1985.2 L1281.2,1988.0 L1277.9,1990.8 L1274.5,1993.6 L1271.3,1996.3 L1268.1,1998.3 L1264.8,2000.4 Z M1321.5,1966.5 L1324.8,1963.6 L1328.2,1960.8 L1331.6,1958.0 L1334.9,1955.2 L1338.3,1952.4 L1341.7,1949.6 L1345.1,1946.7 L1348.7,1943.6 L1352.2,1940.1 L1355.6,1936.7 L1358.9,1933.3 L1352.1,1926.5 L1348.7,1930.0 L1345.3,1933.4 L1342.1,1936.8 L1339.0,1939.6 L1335.7,1942.4 L1332.3,1945.2 L1329.0,1948.1 L1325.6,1950.9 L1322.2,1953.7 L1318.9,1956.5 L1315.5,1959.3 Z M2275.2,607.9 L2278.6,604.9 L2282.0,601.9 L2285.3,598.9 L2288.7,595.9 L2292.0,592.9 L2295.4,589.8 L2298.8,586.8 L2302.1,583.8 L2305.5,580.8 L2308.9,577.8 L2312.2,574.8 L2306.0,567.8 L2302.6,570.8 L2299.2,573.8 L2295.9,576.8 L2292.5,579.8 L2289.2,582.9 L2285.8,585.9 L2282.4,588.9 L2279.1,591.9 L2275.7,594.9 L2272.3,597.9 L2269.0,601.0 Z M2327.8,560.8 L2331.2,557.8 L2334.6,554.7 L2337.9,551.7 L2341.0,549.1 L2344.1,547.3 L2347.5,545.1 L2350.9,543.0 L2354.2,540.8 L2357.6,538.6 L2361.0,536.5 L2364.3,534.3 L2359.1,526.1 L2355.7,528.3 L2352.3,530.4 L2349.0,532.6 L2345.6,534.8 L2342.3,536.9 L2338.9,539.1 L2335.3,541.5 L2331.7,544.7 L2328.3,547.8 L2324.9,550.8 L2321.6,553.8 Z M2379.9,524.3 L2382.8,522.5 L2385.6,520.7 L2388.5,518.8 L2391.3,517.0 L2394.2,515.2 L2397.0,513.3 L2399.9,511.5 L2402.7,509.7 L2405.6,507.8 L2408.4,506.0 L2411.3,504.2 L2406.0,496.0 L2403.2,497.8 L2400.3,499.7 L2397.5,501.5 L2394.6,503.3 L2391.8,505.1 L2388.9,507.0 L2386.1,508.8 L2383.2,510.6 L2380.4,512.5 L2377.5,514.3 L2374.7,516.1 Z M1372.9,1919.1 L1376.2,1915.7 L1379.5,1912.3 L1382.8,1909.0 L1386.1,1905.6 L1389.4,1902.2 L1392.7,1898.9 L1396.0,1895.5 L1399.3,1892.2 L1402.6,1888.8 L1405.9,1885.4 L1409.2,1882.1 L1402.3,1875.3 L1399.0,1878.7 L1395.7,1882.1 L1392.4,1885.4 L1389.1,1888.8 L1385.8,1892.2 L1382.5,1895.5 L1379.2,1898.9 L1375.9,1902.2 L1372.6,1905.6 L1369.3,1909.0 L1366.0,1912.3 Z M1423.9,1866.9 L1426.8,1863.5 L1429.7,1860.2 L1432.7,1856.8 L1435.6,1853.4 L1438.5,1850.1 L1441.4,1846.7 L1444.3,1843.3 L1447.2,1840.0 L1450.1,1836.6 L1453.0,1833.2 L1455.9,1829.9 L1448.1,1823.1 L1445.2,1826.5 L1442.3,1829.8 L1439.3,1833.2 L1436.4,1836.6 L1433.5,1839.9 L1430.6,1843.3 L1427.7,1846.7 L1424.8,1850.0 L1421.9,1853.4 L1419.0,1856.8 L1416.1,1860.1 Z M1469.1,1814.6 L1471.9,1811.3 L1474.7,1808.1 L1477.5,1804.9 L1480.3,1801.7 L1483.0,1798.4 L1485.8,1795.2 L1488.7,1792.0 L1491.8,1788.5 L1494.7,1784.9 L1497.5,1781.2 L1500.3,1777.6 L1491.5,1770.8 L1488.7,1774.5 L1485.9,1778.2 L1483.2,1781.8 L1480.7,1785.2 L1478.0,1788.4 L1475.2,1791.7 L1472.4,1794.9 L1469.6,1798.1 L1466.9,1801.4 L1464.1,1804.6 L1461.3,1807.8 Z M1511.9,1762.4 L1514.4,1759.0 L1517.0,1755.6 L1519.5,1752.3 L1522.1,1748.9 L1524.7,1745.5 L1527.2,1742.2 L1529.8,1738.8 L1532.4,1735.4 L1534.9,1732.1 L1537.5,1728.7 L1540.1,1725.4 L1531.3,1718.6 L1528.7,1722.0 L1526.1,1725.4 L1523.6,1728.7 L1521.0,1732.1 L1518.4,1735.5 L1515.9,1738.8 L1513.3,1742.2 L1510.7,1745.6 L1508.2,1748.9 L1505.6,1752.3 L1503.0,1755.6 Z M1551.1,1710.9 L1553.5,1707.7 L1556.0,1704.5 L1558.4,1701.3 L1560.9,1698.2 L1563.5,1694.8 L1566.0,1691.3 L1568.4,1687.8 L1570.8,1684.3 L1573.2,1680.8 L1575.7,1677.3 L1578.1,1673.8 L1568.5,1667.2 L1566.1,1670.7 L1563.7,1674.2 L1561.3,1677.7 L1558.9,1681.1 L1556.4,1684.6 L1554.1,1688.1 L1551.9,1691.5 L1549.6,1694.6 L1547.1,1697.8 L1544.7,1701.0 L1542.3,1704.1 Z M1589.1,1657.9 L1591.4,1654.5 L1593.8,1651.2 L1596.1,1647.8 L1598.4,1644.5 L1600.7,1641.1 L1603.1,1637.7 L1605.4,1634.4 L1607.7,1631.0 L1610.1,1627.6 L1612.4,1624.3 L1614.7,1620.9 L1605.2,1614.3 L1602.8,1617.7 L1600.5,1621.0 L1598.2,1624.4 L1595.8,1627.7 L1593.5,1631.1 L1591.2,1634.5 L1588.8,1637.8 L1586.5,1641.2 L1584.2,1644.6 L1581.9,1647.9 L1579.5,1651.3 Z M1625.7,1605.1 L1627.9,1601.9 L1630.1,1598.7 L1632.4,1595.5 L1634.7,1592.1 L1637.0,1588.7 L1639.2,1585.2 L1641.4,1581.8 L1643.6,1578.4 L1645.8,1574.9 L1648.0,1571.5 L1650.3,1568.1 L1640.1,1561.5 L1637.9,1565.0 L1635.7,1568.4 L1633.5,1571.9 L1631.3,1575.3 L1629.1,1578.7 L1626.9,1582.2 L1624.7,1585.6 L1622.6,1588.9 L1620.5,1592.1 L1618.3,1595.3 L1616.1,1598.5 Z M1660.5,1552.2 L1662.6,1548.8 L1664.8,1545.4 L1667.0,1542.1 L1669.1,1538.7 L1671.3,1535.3 L1673.5,1532.0 L1675.6,1528.6 L1677.8,1525.2 L1679.9,1521.9 L1682.1,1518.5 L1684.3,1515.2 L1674.1,1508.6 L1672.0,1512.0 L1669.8,1515.4 L1667.7,1518.7 L1665.5,1522.1 L1663.3,1525.5 L1661.2,1528.8 L1659.0,1532.2 L1656.8,1535.6 L1654.7,1538.9 L1652.5,1542.3 L1650.4,1545.6 Z M1694.4,1499.4 L1696.5,1496.1 L1698.6,1492.8 L1700.7,1489.6 L1702.8,1486.3 L1705.0,1483.0 L1707.2,1479.5 L1709.2,1476.0 L1711.3,1472.6 L1713.4,1469.2 L1715.5,1465.7 L1717.6,1462.3 L1707.2,1455.9 L1705.1,1459.4 L1703.0,1462.8 L1700.9,1466.3 L1698.8,1469.7 L1696.7,1473.1 L1694.7,1476.6 L1692.7,1479.8 L1690.6,1483.1 L1688.5,1486.3 L1686.4,1489.6 L1684.3,1492.8 Z M1727.3,1446.4 L1729.3,1443.0 L1731.4,1439.6 L1733.4,1436.3 L1735.5,1432.9 L1737.5,1429.6 L1739.6,1426.2 L1741.6,1422.8 L1743.7,1419.5 L1745.7,1416.1 L1747.7,1412.7 L1749.8,1409.4 L1739.3,1403.0 L1737.3,1406.4 L1735.3,1409.8 L1733.2,1413.1 L1731.2,1416.5 L1729.1,1419.8 L1727.1,1423.2 L1725.0,1426.6 L1723.0,1429.9 L1720.9,1433.3 L1718.9,1436.7 L1716.8,1440.0 Z M1759.5,1393.5 L1761.5,1390.1 L1763.5,1386.8 L1765.5,1383.5 L1767.5,1380.2 L1769.6,1376.8 L1771.6,1373.5 L1773.6,1370.2 L1775.7,1366.8 L1777.8,1363.3 L1779.8,1359.9 L1781.8,1356.4 L1771.2,1350.2 L1769.1,1353.6 L1767.1,1357.1 L1765.1,1360.5 L1763.2,1363.8 L1761.1,1367.2 L1759.1,1370.5 L1757.1,1373.8 L1755.1,1377.1 L1753.1,1380.5 L1751.0,1383.8 L1749.0,1387.1 Z M1790.0,1342.5 L1791.9,1339.2 L1793.9,1335.8 L1795.9,1332.4 L1797.8,1329.1 L1799.8,1325.7 L1801.8,1322.3 L1803.7,1319.0 L1805.7,1315.6 L1807.7,1312.2 L1809.7,1308.9 L1811.6,1305.5 L1801.0,1299.3 L1799.0,1302.6 L1797.0,1306.0 L1795.1,1309.4 L1793.1,1312.7 L1791.1,1316.1 L1789.1,1319.5 L1787.2,1322.8 L1785.2,1326.2 L1783.2,1329.6 L1781.3,1332.9 L1779.3,1336.3 Z M1819.8,1291.5 L1821.8,1288.2 L1823.8,1284.8 L1825.7,1281.4 L1827.7,1278.1 L1829.7,1274.7 L1831.6,1271.3 L1833.6,1268.0 L1835.6,1264.6 L1837.6,1261.2 L1839.5,1257.9 L1841.5,1254.5 L1830.8,1248.3 L1828.9,1251.6 L1826.9,1255.0 L1824.9,1258.4 L1823.0,1261.7 L1821.0,1265.1 L1819.0,1268.5 L1817.0,1271.8 L1815.1,1275.2 L1813.1,1278.6 L1811.1,1281.9 L1809.2,1285.3 Z M1851.0,1238.2 L1853.0,1234.8 L1854.9,1231.5 L1856.9,1228.1 L1858.8,1224.8 L1860.8,1221.4 L1862.7,1218.0 L1864.7,1214.7 L1866.6,1211.3 L1868.6,1207.9 L1870.5,1204.6 L1872.5,1201.2 L1861.8,1195.0 L1859.8,1198.4 L1857.9,1201.7 L1855.9,1205.1 L1854.0,1208.4 L1852.0,1211.8 L1850.1,1215.2 L1848.1,1218.5 L1846.2,1221.9 L1844.2,1225.3 L1842.3,1228.6 L1840.3,1232.0 Z M1882.2,1184.4 L1884.2,1181.0 L1886.1,1177.7 L1888.1,1174.3 L1890.0,1171.0 L1892.0,1167.6 L1893.9,1164.2 L1895.9,1160.9 L1897.8,1157.5 L1899.8,1154.1 L1901.7,1150.8 L1903.7,1147.4 L1893.0,1141.2 L1891.0,1144.6 L1889.1,1147.9 L1887.1,1151.3 L1885.2,1154.6 L1883.2,1158.0 L1881.3,1161.4 L1879.3,1164.7 L1877.4,1168.1 L1875.4,1171.5 L1873.5,1174.8 L1871.5,1178.2 Z M1912.3,1132.6 L1914.3,1129.2 L1916.2,1125.8 L1918.2,1122.4 L1920.1,1119.1 L1922.1,1115.7 L1924.1,1112.4 L1926.1,1109.0 L1928.1,1105.7 L1930.0,1102.3 L1932.0,1099.0 L1934.0,1095.6 L1923.4,1089.4 L1921.4,1092.7 L1919.4,1096.1 L1917.5,1099.4 L1915.5,1102.8 L1913.5,1106.1 L1911.5,1109.5 L1909.5,1112.8 L1907.5,1116.2 L1905.5,1119.6 L1903.5,1123.0 L1901.6,1126.4 Z M1942.6,1081.1 L1944.6,1077.8 L1946.6,1074.4 L1948.5,1071.0 L1950.5,1067.7 L1952.5,1064.3 L1954.5,1061.0 L1956.5,1057.6 L1958.5,1054.2 L1960.5,1050.9 L1962.5,1047.5 L1964.5,1044.1 L1953.9,1037.9 L1951.9,1041.2 L1949.9,1044.6 L1947.9,1048.0 L1945.9,1051.3 L1943.9,1054.7 L1941.9,1058.0 L1939.9,1061.4 L1937.9,1064.8 L1936.0,1068.1 L1934.0,1071.5 L1932.0,1074.9 Z M1974.9,1026.4 L1977.0,1023.0 L1979.0,1019.6 L1981.0,1016.1 L1983.1,1012.7 L1985.1,1009.3 L1987.1,1005.9 L1989.0,1002.5 L1991.0,999.3 L1993.1,996.0 L1995.1,992.8 L1997.1,989.5 L1986.8,983.1 L1984.8,986.4 L1982.8,989.6 L1980.7,992.9 L1978.7,996.2 L1976.5,999.6 L1974.5,1003.0 L1972.5,1006.4 L1970.4,1009.9 L1968.4,1013.3 L1966.4,1016.7 L1964.3,1020.2 Z M2007.0,973.6 L2009.1,970.2 L2011.2,966.9 L2013.3,963.5 L2015.4,960.2 L2017.5,956.8 L2019.6,953.4 L2021.7,950.1 L2023.8,946.7 L2025.9,943.3 L2028.0,940.0 L2030.1,936.6 L2019.7,930.2 L2017.6,933.6 L2015.6,936.9 L2013.5,940.3 L2011.4,943.6 L2009.3,947.0 L2007.2,950.4 L2005.1,953.7 L2003.0,957.1 L2000.9,960.5 L1998.8,963.8 L1996.7,967.2 Z M2040.8,919.4 L2042.9,916.0 L2045.0,912.6 L2047.2,909.1 L2049.3,905.7 L2051.4,902.3 L2053.6,898.9 L2055.7,895.4 L2057.8,892.0 L2059.8,888.8 L2061.8,885.6 L2063.9,882.5 L2054.2,875.9 L2052.1,879.1 L2049.8,882.2 L2047.6,885.6 L2045.4,889.0 L2043.2,892.4 L2041.1,895.9 L2039.0,899.3 L2036.8,902.7 L2034.7,906.1 L2032.6,909.6 L2030.5,913.0 Z M2072.2,870.3 L2074.5,866.9 L2076.7,863.6 L2079.0,860.2 L2081.3,856.8 L2083.6,853.5 L2085.9,850.1 L2088.1,846.8 L2090.4,843.4 L2092.7,840.0 L2095.0,836.7 L2097.2,833.3 L2087.5,826.7 L2085.2,830.1 L2082.9,833.4 L2080.7,836.8 L2078.4,840.2 L2076.1,843.5 L2073.8,846.9 L2071.6,850.2 L2069.3,853.6 L2067.0,857.0 L2064.7,860.3 L2062.4,863.7 Z M2106.9,819.0 L2109.2,815.6 L2111.5,812.2 L2113.8,808.8 L2116.1,805.4 L2118.4,802.0 L2120.7,798.6 L2123.0,795.2 L2125.3,791.8 L2127.6,788.4 L2129.7,785.1 L2131.8,782.1 L2123.0,775.3 L2120.5,778.4 L2117.9,781.8 L2115.6,785.2 L2113.3,788.6 L2111.0,792.0 L2108.7,795.4 L2106.4,798.8 L2104.1,802.2 L2101.8,805.6 L2099.5,809.0 L2097.2,812.4 Z M2143.6,766.6 L2146.1,763.2 L2148.7,759.8 L2151.3,756.5 L2153.8,753.1 L2156.4,749.7 L2158.9,746.4 L2161.5,743.0 L2164.1,739.6 L2166.6,736.3 L2169.2,732.9 L2171.7,729.6 L2162.9,722.8 L2160.4,726.2 L2157.8,729.6 L2155.2,732.9 L2152.7,736.3 L2150.1,739.7 L2147.6,743.0 L2145.0,746.4 L2142.4,749.8 L2139.9,753.1 L2137.3,756.5 L2134.8,759.8 Z M2183.7,713.9 L2186.4,710.3 L2189.2,706.6 L2191.9,703.0 L2194.7,699.4 L2197.4,695.8 L2199.8,692.3 L2202.3,689.2 L2205.0,686.1 L2207.7,683.0 L2210.5,680.0 L2213.2,676.9 L2205.6,670.1 L2202.9,673.2 L2200.2,676.3 L2197.4,679.3 L2194.7,682.4 L2191.6,685.5 L2188.6,689.1 L2185.8,692.7 L2183.1,696.3 L2180.3,699.9 L2177.6,703.5 L2174.9,707.1 Z M2227.8,660.6 L2230.8,657.2 L2233.8,653.9 L2236.8,650.5 L2239.8,647.1 L2242.8,643.8 L2245.8,640.4 L2248.8,637.0 L2251.8,633.7 L2254.8,630.3 L2257.8,626.9 L2260.8,623.6 L2253.2,616.8 L2250.2,620.2 L2247.2,623.5 L2244.2,626.9 L2241.2,630.3 L2238.2,633.6 L2235.2,637.0 L2232.2,640.4 L2229.2,643.7 L2226.2,647.1 L2223.2,650.5 L2220.2,653.8 Z"/>
<path d="M209.2,2144.9 L211.6,2144.9 L214.1,2144.9 L216.5,2144.9 L219.0,2144.9 L221.4,2144.9 L223.9,2144.9 L226.3,2144.9 L228.8,2144.9 L231.2,2144.9 L233.7,2144.9 L236.1,2144.9 L238.6,2144.9 L241.0,2144.9 L243.5,2144.9 L245.9,2144.9 L248.3,2144.9 L250.8,2144.9 L253.2,2144.9 L255.7,2144.9 L258.1,2144.9 L260.6,2144.9 L263.0,2144.9 L265.5,2144.9 L267.9,2144.9 L270.4,2144.9 L272.8,2144.9 L275.3,2144.9 L277.7,2144.9 L280.2,2144.9 L282.6,2144.9 L285.0,2144.9 L287.5,2144.9 L289.9,2144.9 L292.4,2144.9 L294.8,2144.9 L297.3,2144.9 L299.7,2144.9 L302.2,2144.9 L304.6,2144.9 L307.1,2144.9 L309.5,2144.9 L312.0,2144.9 L314.4,2144.9 L316.9,2144.9 L319.3,2144.9 L321.7,2144.9 L324.2,2144.9 L326.6,2144.9 L329.1,2144.9 L331.5,2144.9 L334.0,2144.9 L336.4,2144.9 L338.9,2144.9 L341.3,2144.9 L343.8,2144.9 L346.2,2144.9 L348.7,2144.8 L351.1,2144.8 L353.6,2144.8 L356.0,2144.8 L358.4,2144.8 L360.9,2144.8 L363.3,2144.8 L365.8,2144.8 L368.2,2144.8 L370.7,2144.8 L373.1,2144.8 L375.6,2144.8 L378.0,2144.8 L380.5,2144.8 L382.9,2144.8 L385.4,2144.8 L387.8,2144.8 L390.3,2144.8 L392.7,2144.8 L395.1,2144.8 L397.6,2144.8 L400.0,2144.8 L402.5,2144.8 L404.9,2144.8 L407.4,2144.8 L409.8,2144.8 L412.3,2144.8 L414.7,2144.8 L417.2,2144.8 L419.6,2144.8 L422.1,2144.8 L424.5,2144.8 L427.0,2144.8 L429.4,2144.8 L431.8,2144.8 L434.3,2144.8 L436.7,2144.7 L439.2,2144.7 L441.6,2144.7 L444.1,2144.7 L446.5,2144.7 L449.0,2144.7 L451.4,2144.7 L453.9,2144.7 L456.3,2144.7 L458.8,2144.7 L461.2,2144.7 L463.7,2144.7 L466.1,2144.7 L468.5,2144.7 L471.0,2144.7 L473.4,2144.7 L475.9,2144.7 L478.3,2144.7 L480.8,2144.7 L483.2,2144.7 L485.7,2144.7 L488.1,2144.7 L490.6,2144.6 L493.0,2144.6 L495.5,2144.6 L497.9,2144.6 L500.4,2144.6 L502.8,2144.6 L505.3,2144.6 L507.7,2144.6 L510.1,2144.6 L512.6,2144.6 L515.0,2144.6 L517.5,2144.6 L519.9,2144.6 L522.4,2144.6 L524.8,2144.5 L527.3,2144.5 L529.7,2144.5 L532.2,2144.5 L534.6,2144.5 L537.1,2144.5 L539.5,2144.5 L541.9,2144.5 L544.4,2144.5 L546.8,2144.5 L549.3,2144.5 L551.7,2144.5 L554.2,2144.5 L556.6,2144.4 L559.1,2144.4 L561.5,2144.4 L564.0,2144.4 L566.4,2144.4 L568.9,2144.4 L571.3,2144.4 L573.8,2144.4 L576.2,2144.4 L578.7,2144.3 L581.1,2144.3 L583.6,2144.3 L586.0,2144.3 L588.4,2144.3 L590.9,2144.3 L593.3,2144.3 L595.8,2144.3 L598.2,2144.2 L600.7,2144.2 L603.1,2144.2 L605.6,2144.2 L608.0,2144.2 L610.5,2144.2 L612.9,2144.2 L615.4,2144.1 L617.8,2144.1 L620.3,2144.1 L622.7,2144.1 L625.1,2144.1 L627.6,2144.1 L630.0,2144.1 L632.5,2144.1 L634.9,2144.0 L637.4,2144.0 L639.8,2144.0 L642.3,2144.0 L644.7,2143.9 L647.2,2143.9 L649.6,2143.9 L652.1,2143.9 L654.5,2143.9 L657.0,2143.8 L659.4,2143.8 L661.9,2143.8 L664.3,2143.8 L666.8,2143.7 L669.2,2143.7 L671.7,2143.7 L674.1,2143.7 L676.5,2143.7 L679.0,2143.6 L681.4,2143.6 L683.9,2143.6 L686.3,2143.6 L688.8,2143.5 L691.2,2143.5 L693.7,2143.5 L696.1,2143.5 L698.6,2143.4 L701.0,2143.4 L703.5,2143.4 L705.8,2143.4 L708.2,2143.4 L710.7,2143.4 L713.1,2143.5 L715.6,2143.5 L718.0,2143.6 L720.4,2143.6 L722.9,2143.6 L725.3,2143.7 L727.8,2143.7 L730.2,2143.7 L732.7,2143.8 L735.1,2143.8 L737.6,2143.9 L740.0,2143.9 L742.5,2143.9 L744.9,2144.0 L747.4,2144.0 L749.8,2144.0 L752.2,2144.1 L754.7,2144.1 L757.1,2144.1 L759.6,2144.2 L762.0,2144.2 L764.5,2144.3 L766.9,2144.3 L769.4,2144.3 L771.8,2144.4 L774.3,2144.4 L776.8,2144.5 L779.3,2144.4 L781.8,2144.4 L784.2,2144.3 L786.7,2144.3 L789.1,2144.3 L791.6,2144.2 L794.0,2144.2 L796.5,2144.2 L798.9,2144.1 L801.3,2144.1 L803.8,2144.0 L806.2,2144.0 L808.7,2144.0 L811.1,2143.9 L813.6,2143.9 L816.0,2143.9 L818.5,2143.8 L820.9,2143.8 L823.4,2143.8 L825.8,2143.7 L828.3,2143.7 L830.7,2143.6 L833.2,2143.6 L835.6,2143.6 L838.0,2143.5 L840.5,2143.5 L842.9,2143.5 L845.4,2143.4 L848.0,2143.4 L850.6,2143.1 L853.0,2143.0 L855.5,2142.8 L857.9,2142.6 L860.4,2142.5 L862.8,2142.3 L865.3,2142.1 L867.7,2141.9 L870.2,2141.8 L872.6,2141.6 L875.1,2141.4 L877.5,2141.3 L879.9,2141.1 L882.4,2140.9 L884.8,2140.7 L887.3,2140.6 L889.7,2140.4 L892.2,2140.2 L894.6,2140.1 L897.1,2139.9 L899.5,2139.7 L902.0,2139.5 L904.4,2139.4 L906.9,2139.2 L909.3,2139.0 L911.7,2138.9 L914.2,2138.7 L916.6,2138.5 L919.1,2138.3 L921.6,2138.2 L924.0,2138.0 L926.4,2137.8 L928.9,2137.6 L931.3,2137.4 L933.8,2137.3 L936.2,2137.1 L938.7,2136.9 L941.1,2136.7 L943.6,2136.5 L946.0,2136.4 L948.5,2136.2 L950.9,2136.0 L953.4,2135.8 L955.8,2135.6 L958.3,2135.5 L960.7,2135.3 L963.1,2135.1 L965.6,2134.9 L968.0,2134.7 L970.5,2134.6 L972.9,2134.4 L975.4,2134.2 L977.8,2134.0 L980.3,2133.8 L982.7,2133.7 L985.2,2133.5 L987.6,2133.3 L990.0,2133.1 L992.4,2133.0 L994.9,2132.8 L997.3,2132.7 L999.8,2132.5 L1002.2,2132.4 L1004.7,2132.2 L1007.1,2132.0 L1009.6,2131.9 L1012.0,2131.7 L1014.5,2131.6 L1016.9,2131.4 L1019.4,2131.3 L1021.8,2131.1 L1024.3,2131.0 L1026.7,2130.8 L1029.1,2130.6 L1031.6,2130.5 L1034.0,2130.3 L1036.5,2130.2 L1038.9,2130.0 L1041.4,2129.9 L1043.8,2129.7 L1046.3,2129.6 L1048.7,2129.4 L1051.2,2129.2 L1053.6,2129.1 L1056.1,2128.9 L1058.5,2128.8 L1061.0,2128.6 L1063.6,2128.3 L1066.0,2128.1 L1068.5,2127.9 L1070.9,2127.7 L1073.3,2127.4 L1075.8,2127.2 L1078.2,2127.0 L1080.7,2126.7 L1083.1,2126.5 L1085.6,2126.3 L1088.0,2126.1 L1090.5,2125.8 L1092.9,2125.6 L1095.4,2125.4 L1097.8,2125.1 L1100.3,2124.9 L1102.7,2124.7 L1105.2,2124.5 L1107.6,2124.2 L1110.0,2124.0 L1112.5,2123.8 L1114.9,2123.5 L1117.4,2123.3 L1119.8,2123.1 L1122.3,2122.9 L1124.7,2122.6 L1127.2,2122.4 L1129.6,2122.2 L1132.2,2121.9 L1134.8,2121.5 L1137.3,2121.1 L1139.7,2120.7 L1142.1,2120.4 L1144.6,2120.0 L1147.0,2119.6 L1149.5,2119.3 L1151.9,2118.9 L1154.4,2118.5 L1156.8,2118.2 L1159.3,2117.8 L1161.7,2117.4 L1164.2,2117.1 L1166.6,2116.7 L1169.1,2116.3 L1171.5,2116.0 L1174.0,2115.6 L1176.4,2115.2 L1178.8,2114.9 L1181.3,2114.5 L1183.7,2114.1 L1186.2,2113.8 L1188.6,2113.4 L1191.1,2113.0 L1193.5,2112.7 L1196.0,2112.3 L1198.4,2111.9 L1200.9,2111.6 L1203.5,2111.1 L1206.1,2110.5 L1208.6,2109.9 L1211.0,2109.4 L1213.5,2108.8 L1215.9,2108.3 L1218.4,2107.7 L1220.8,2107.1 L1223.3,2106.6 L1225.7,2106.0 L1228.2,2105.5 L1230.6,2104.9 L1233.1,2104.3 L1235.5,2103.8 L1237.9,2103.2 L1240.4,2102.7 L1242.8,2102.1 L1245.3,2101.6 L1247.7,2101.0 L1250.2,2100.4 L1252.6,2099.9 L1255.1,2099.3 L1257.5,2098.8 L1260.0,2098.2 L1262.4,2097.6 L1264.9,2097.1 L1267.3,2096.5 L1269.8,2096.0 L1272.2,2095.4 L1274.9,2094.7 L1277.5,2093.8 L1280.0,2093.0 L1282.4,2092.2 L1284.9,2091.4 L1287.3,2090.6 L1289.8,2089.8 L1292.2,2089.0 L1294.7,2088.1 L1297.1,2087.3 L1299.6,2086.5 L1302.0,2085.7 L1304.5,2084.9 L1306.9,2084.1 L1309.3,2083.3 L1311.8,2082.5 L1314.2,2081.7 L1316.7,2080.9 L1319.1,2080.1 L1321.6,2079.3 L1324.0,2078.4 L1326.5,2077.6 L1328.9,2076.8 L1331.4,2076.0 L1333.8,2075.2 L1336.3,2074.4 L1338.7,2073.6 L1341.2,2072.8 L1343.6,2072.0 L1346.3,2071.0 L1348.9,2069.8 L1351.3,2068.8 L1353.8,2067.7 L1356.2,2066.6 L1358.7,2065.6 L1361.1,2064.5 L1363.6,2063.4 L1366.0,2062.4 L1368.5,2061.3 L1370.9,2060.3 L1373.4,2059.2 L1375.8,2058.1 L1378.3,2057.1 L1380.7,2056.0 L1383.1,2054.9 L1385.6,2053.9 L1388.0,2052.8 L1390.5,2051.7 L1392.9,2050.7 L1395.4,2049.6 L1397.8,2048.5 L1400.3,2047.5 L1402.7,2046.4 L1405.2,2045.3 L1407.6,2044.3 L1410.1,2043.2 L1412.5,2042.2 L1415.0,2041.1 L1417.5,2039.9 L1420.1,2038.6 L1422.5,2037.4 L1425.0,2036.2 L1427.4,2034.9 L1429.8,2033.7 L1432.3,2032.5 L1434.7,2031.2 L1437.2,2030.0 L1439.6,2028.8 L1442.1,2027.6 L1444.5,2026.3 L1447.0,2025.1 L1449.4,2023.9 L1451.9,2022.7 L1454.3,2021.4 L1456.8,2020.2 L1459.2,2019.0 L1461.7,2017.8 L1464.1,2016.5 L1466.5,2015.3 L1469.0,2014.1 L1471.4,2012.9 L1473.9,2011.6 L1476.3,2010.4 L1478.8,2009.2 L1481.2,2007.9 L1483.7,2006.7 L1486.1,2005.5 L1488.8,2004.1 L1491.4,2002.3 L1493.8,2000.7 L1496.3,1999.2 L1498.7,1997.6 L1501.2,1996.0 L1503.6,1994.5 L1506.1,1992.9 L1508.5,1991.3 L1510.9,1989.8 L1513.4,1988.2 L1515.8,1986.6 L1518.3,1985.1 L1520.7,1983.5 L1523.2,1981.9 L1525.6,1980.4 L1528.1,1978.8 L1530.5,1977.2 L1533.0,1975.7 L1535.4,1974.1 L1537.9,1972.5 L1540.3,1971.0 L1542.8,1969.4 L1545.2,1967.8 L1547.6,1966.3 L1550.1,1964.7 L1552.5,1963.1 L1555.0,1961.6 L1557.4,1960.0 L1560.0,1958.3 L1562.6,1956.3 L1565.0,1954.4 L1567.4,1952.6 L1569.9,1950.7 L1572.3,1948.9 L1574.8,1947.1 L1577.2,1945.2 L1579.7,1943.4 L1582.1,1941.5 L1584.6,1939.7 L1587.0,1937.8 L1589.5,1936.0 L1591.9,1934.1 L1594.4,1932.3 L1596.8,1930.5 L1599.2,1928.6 L1601.7,1926.8 L1604.1,1924.9 L1606.6,1923.1 L1609.0,1921.2 L1611.5,1919.4 L1613.9,1917.5 L1616.4,1915.7 L1618.8,1913.8 L1621.3,1912.0 L1623.7,1910.2 L1626.2,1908.3 L1628.6,1906.5 L1631.2,1904.4 L1633.8,1902.2 L1636.2,1900.0 L1638.7,1897.8 L1641.1,1895.6 L1643.5,1893.5 L1646.0,1891.3 L1648.4,1889.1 L1650.9,1886.9 L1653.3,1884.8 L1655.8,1882.6 L1658.2,1880.4 L1660.7,1878.2 L1663.1,1876.1 L1665.6,1873.9 L1668.0,1871.7 L1670.5,1869.6 L1672.9,1867.4 L1675.3,1865.2 L1677.8,1863.0 L1680.2,1860.9 L1682.7,1858.7 L1685.1,1856.5 L1687.6,1854.3 L1690.0,1852.2 L1692.5,1850.0 L1694.9,1847.8 L1697.4,1845.6 L1699.8,1843.5 L1702.4,1841.2 L1705.1,1838.6 L1707.5,1836.1 L1710.0,1833.6 L1712.4,1831.1 L1714.8,1828.6 L1717.3,1826.0 L1719.7,1823.5 L1722.2,1821.0 L1724.6,1818.5 L1727.1,1816.0 L1729.5,1813.5 L1732.0,1810.9 L1734.4,1808.4 L1736.9,1805.9 L1739.3,1803.4 L1741.8,1800.9 L1744.2,1798.3 L1746.7,1795.8 L1749.1,1793.3 L1751.5,1790.8 L1754.0,1788.3 L1756.4,1785.7 L1758.9,1783.2 L1761.3,1780.7 L1763.8,1778.2 L1766.2,1775.7 L1768.7,1773.2 L1771.1,1770.6 L1773.7,1768.1 L1776.3,1765.4 L1778.8,1762.7 L1781.2,1760.0 L1783.7,1757.2 L1786.1,1754.5 L1788.5,1751.8 L1791.0,1749.0 L1793.4,1746.3 L1795.9,1743.6 L1798.3,1740.9 L1800.8,1738.1 L1803.2,1735.4 L1805.7,1732.7 L1808.1,1730.0 L1810.6,1727.2 L1813.0,1724.5 L1815.5,1721.8 L1817.9,1719.1 L1820.3,1716.3 L1822.8,1713.6 L1825.2,1710.9 L1827.7,1708.2 L1830.1,1705.4 L1832.6,1702.7 L1835.0,1700.0 L1837.5,1697.3 L1839.9,1694.5 L1842.4,1691.8 L1845.0,1689.1 L1847.6,1686.1 L1850.0,1683.2 L1852.5,1680.2 L1854.9,1677.2 L1857.4,1674.3 L1859.8,1671.3 L1862.3,1668.4 L1864.7,1665.4 L1867.2,1662.4 L1869.6,1659.5 L1872.0,1656.5 L1874.5,1653.6 L1876.9,1650.6 L1879.4,1647.6 L1881.8,1644.7 L1884.3,1641.7 L1886.7,1638.8 L1889.2,1635.8 L1891.6,1632.8 L1894.1,1629.9 L1896.5,1626.9 L1899.0,1624.0 L1901.4,1621.0 L1903.8,1618.0 L1906.3,1615.1 L1908.7,1612.1 L1911.2,1609.2 L1913.6,1606.2 L1916.2,1603.2 L1918.8,1600.1 L1921.2,1597.0 L1923.6,1593.8 L1926.1,1590.7 L1928.5,1587.6 L1931.0,1584.4 L1933.4,1581.3 L1935.9,1578.2 L1938.3,1575.0 L1940.8,1571.9 L1943.2,1568.7 L1945.7,1565.6 L1948.1,1562.5 L1950.6,1559.3 L1953.0,1556.2 L1955.5,1553.1 L1957.9,1549.9 L1960.3,1546.8 L1962.8,1543.7 L1965.2,1540.5 L1967.7,1537.4 L1970.1,1534.3 L1972.6,1531.1 L1975.0,1528.0 L1977.5,1524.9 L1979.9,1521.7 L1982.4,1518.6 L1984.8,1515.5 L1987.3,1512.3 L1989.8,1509.1 L1992.3,1505.9 L1994.7,1502.6 L1997.2,1499.4 L1999.6,1496.2 L2002.1,1492.9 L2004.5,1489.7 L2007.0,1486.5 L2009.4,1483.2 L2011.8,1480.0 L2014.3,1476.8 L2016.7,1473.6 L2019.2,1470.3 L2021.6,1467.1 L2024.1,1463.9 L2026.5,1460.6 L2029.0,1457.4 L2031.4,1454.2 L2033.9,1450.9 L2036.3,1447.7 L2038.8,1444.5 L2041.2,1441.3 L2043.7,1438.0 L2046.1,1434.8 L2048.5,1431.6 L2051.0,1428.3 L2053.4,1425.1 L2055.9,1421.9 L2058.3,1418.6 L2060.8,1415.4 L2063.2,1412.2 L2065.7,1409.0 L2068.1,1405.7 L2070.6,1402.5 L2073.0,1399.3 L2075.4,1396.1 L2077.9,1392.9 L2080.3,1389.6 L2082.8,1386.4 L2085.2,1383.2 L2087.7,1380.0 L2090.1,1376.7 L2092.6,1373.5 L2095.0,1370.3 L2097.5,1367.1 L2099.9,1363.9 L2102.4,1360.6 L2104.8,1357.4 L2107.3,1354.2 L2109.7,1351.0 L2112.1,1347.7 L2114.6,1344.5 L2117.0,1341.3 L2119.5,1338.1 L2121.9,1334.8 L2124.4,1331.6 L2126.8,1328.4 L2129.2,1325.2 L2131.5,1322.1 L2134.0,1319.1 L2136.4,1316.0 L2138.9,1312.9 L2141.3,1309.9 L2143.8,1306.8 L2146.2,1303.7 L2148.6,1300.7 L2151.1,1297.6 L2153.5,1294.5 L2156.0,1291.5 L2158.4,1288.4 L2160.9,1285.3 L2163.3,1282.3 L2165.8,1279.2 L2168.2,1276.1 L2170.7,1273.1 L2173.1,1270.0 L2175.6,1266.9 L2178.0,1263.9 L2180.5,1260.8 L2182.9,1257.7 L2185.3,1254.7 L2187.8,1251.6 L2190.2,1248.5 L2192.7,1245.5 L2195.1,1242.4 L2197.6,1239.3 L2199.9,1236.3 L2202.1,1233.5 L2204.6,1230.6 L2207.0,1227.8 L2209.5,1225.0 L2211.9,1222.2 L2214.4,1219.4 L2216.8,1216.6 L2219.3,1213.8 L2221.7,1211.0 L2224.1,1208.2 L2226.6,1205.4 L2229.0,1202.6 L2231.5,1199.8 L2233.9,1197.0 L2236.4,1194.1 L2238.8,1191.3 L2241.3,1188.5 L2243.7,1185.7 L2246.2,1182.9 L2248.6,1180.1 L2251.1,1177.3 L2253.5,1174.5 L2255.9,1171.7 L2258.4,1168.9 L2260.8,1166.1 L2263.3,1163.3 L2265.7,1160.5 L2268.2,1157.6 L2270.3,1154.8 L2272.5,1152.4 L2275.0,1150.0 L2277.4,1147.6 L2279.9,1145.2 L2282.3,1142.9 L2284.7,1140.5 L2287.2,1138.1 L2289.6,1135.7 L2292.1,1133.3 L2294.5,1130.9 L2297.0,1128.5 L2299.4,1126.1 L2301.9,1123.7 L2304.3,1121.3 L2306.8,1118.9 L2309.2,1116.5 L2311.7,1114.1 L2314.1,1111.7 L2316.6,1109.3 L2319.0,1106.9 L2321.4,1104.5 L2323.9,1102.1 L2326.3,1099.7 L2328.8,1097.3 L2331.2,1094.9 L2333.7,1092.5 L2336.1,1090.1 L2338.6,1087.7 L2341.0,1085.3 L2343.4,1083.0 L2345.9,1080.6 L2348.3,1078.3 L2350.8,1075.9 L2353.2,1073.6 L2355.7,1071.2 L2358.1,1068.9 L2360.5,1066.5 L2363.0,1064.1 L2365.4,1061.8 L2367.9,1059.4 L2370.3,1057.1 L2372.8,1054.7 L2375.2,1052.4 L2377.7,1050.0 L2380.1,1047.7 L2382.6,1045.3 L2385.0,1043.0 L2387.5,1040.6 L2389.9,1038.3 L2392.4,1035.9 L2394.8,1033.6 L2397.2,1031.2 L2399.7,1028.9 L2402.1,1026.5 L2404.6,1024.2 L2407.0,1021.8 L2409.5,1019.5 L2411.9,1017.1 L2405.4,1010.3 L2402.9,1012.7 L2400.5,1015.0 L2398.0,1017.4 L2395.6,1019.7 L2393.1,1022.1 L2390.7,1024.4 L2388.2,1026.8 L2385.8,1029.1 L2383.4,1031.5 L2380.9,1033.8 L2378.5,1036.2 L2376.0,1038.5 L2373.6,1040.9 L2371.1,1043.2 L2368.7,1045.6 L2366.2,1047.9 L2363.8,1050.3 L2361.3,1052.6 L2358.9,1055.0 L2356.4,1057.3 L2354.0,1059.7 L2351.5,1062.0 L2349.1,1064.4 L2346.7,1066.7 L2344.2,1069.1 L2341.8,1071.4 L2339.3,1073.8 L2336.9,1076.1 L2334.4,1078.5 L2331.9,1080.9 L2329.5,1083.3 L2327.0,1085.7 L2324.6,1088.1 L2322.1,1090.5 L2319.7,1092.9 L2317.3,1095.3 L2314.8,1097.7 L2312.4,1100.1 L2309.9,1102.5 L2307.5,1104.9 L2305.0,1107.3 L2302.6,1109.7 L2300.1,1112.1 L2297.7,1114.5 L2295.2,1116.9 L2292.8,1119.3 L2290.3,1121.7 L2287.9,1124.1 L2285.5,1126.5 L2283.0,1128.9 L2280.6,1131.3 L2278.1,1133.7 L2275.7,1136.1 L2273.2,1138.5 L2270.8,1140.9 L2268.3,1143.3 L2265.9,1145.7 L2263.2,1148.1 L2260.4,1150.9 L2258.0,1153.7 L2255.5,1156.5 L2253.1,1159.3 L2250.6,1162.1 L2248.2,1164.9 L2245.7,1167.7 L2243.3,1170.5 L2240.9,1173.4 L2238.4,1176.2 L2236.0,1179.0 L2233.5,1181.8 L2231.1,1184.6 L2228.6,1187.4 L2226.2,1190.2 L2223.7,1193.0 L2221.3,1195.8 L2218.8,1198.6 L2216.4,1201.4 L2213.9,1204.2 L2211.5,1207.0 L2209.0,1209.9 L2206.6,1212.7 L2204.2,1215.5 L2201.7,1218.3 L2199.3,1221.1 L2196.8,1223.9 L2194.4,1226.7 L2191.7,1229.5 L2189.1,1232.6 L2186.7,1235.7 L2184.2,1238.7 L2181.8,1241.8 L2179.3,1244.9 L2176.9,1247.9 L2174.5,1251.0 L2172.0,1254.1 L2169.6,1257.1 L2167.1,1260.2 L2164.7,1263.3 L2162.2,1266.3 L2159.8,1269.4 L2157.3,1272.5 L2154.9,1275.5 L2152.4,1278.6 L2150.0,1281.7 L2147.5,1284.7 L2145.1,1287.8 L2142.6,1290.9 L2140.2,1293.9 L2137.8,1297.0 L2135.3,1300.1 L2132.9,1303.1 L2130.4,1306.2 L2128.0,1309.3 L2125.5,1312.3 L2123.1,1315.4 L2120.5,1318.5 L2118.0,1321.7 L2115.5,1324.9 L2113.1,1328.1 L2110.6,1331.4 L2108.2,1334.6 L2105.8,1337.8 L2103.3,1341.0 L2100.9,1344.2 L2098.4,1347.5 L2096.0,1350.7 L2093.5,1353.9 L2091.1,1357.1 L2088.6,1360.4 L2086.2,1363.6 L2083.7,1366.8 L2081.3,1370.0 L2078.8,1373.3 L2076.4,1376.5 L2073.9,1379.7 L2071.5,1382.9 L2069.1,1386.1 L2066.6,1389.4 L2064.2,1392.6 L2061.7,1395.8 L2059.3,1399.0 L2056.8,1402.3 L2054.4,1405.5 L2051.9,1408.7 L2049.5,1411.9 L2047.0,1415.2 L2044.6,1418.4 L2042.1,1421.6 L2039.7,1424.8 L2037.2,1428.1 L2034.8,1431.3 L2032.3,1434.5 L2029.9,1437.8 L2027.5,1441.0 L2025.0,1444.2 L2022.6,1447.5 L2020.1,1450.7 L2017.7,1453.9 L2015.2,1457.2 L2012.8,1460.4 L2010.3,1463.6 L2007.9,1466.8 L2005.4,1470.1 L2003.0,1473.3 L2000.5,1476.5 L1998.1,1479.8 L1995.6,1483.0 L1993.2,1486.2 L1990.8,1489.5 L1988.3,1492.7 L1985.9,1495.9 L1983.4,1499.2 L1981.0,1502.4 L1978.6,1505.6 L1976.2,1508.7 L1973.7,1511.9 L1971.3,1515.0 L1968.9,1518.1 L1966.4,1521.3 L1964.0,1524.4 L1961.5,1527.5 L1959.1,1530.7 L1956.6,1533.8 L1954.2,1536.9 L1951.7,1540.1 L1949.3,1543.2 L1946.8,1546.3 L1944.4,1549.5 L1941.9,1552.6 L1939.5,1555.8 L1937.0,1558.9 L1934.6,1562.0 L1932.2,1565.2 L1929.7,1568.3 L1927.3,1571.4 L1924.8,1574.6 L1922.4,1577.7 L1919.9,1580.8 L1917.5,1584.0 L1915.0,1587.1 L1912.6,1590.2 L1910.1,1593.4 L1907.8,1596.5 L1905.5,1599.4 L1903.0,1602.4 L1900.6,1605.4 L1898.1,1608.3 L1895.7,1611.3 L1893.2,1614.2 L1890.8,1617.2 L1888.3,1620.2 L1885.9,1623.1 L1883.5,1626.1 L1881.0,1629.0 L1878.6,1632.0 L1876.1,1635.0 L1873.7,1637.9 L1871.2,1640.9 L1868.8,1643.8 L1866.3,1646.8 L1863.9,1649.8 L1861.4,1652.7 L1859.0,1655.7 L1856.5,1658.6 L1854.1,1661.6 L1851.6,1664.6 L1849.2,1667.5 L1846.8,1670.5 L1844.3,1673.4 L1841.9,1676.4 L1839.4,1679.4 L1837.1,1682.3 L1834.8,1685.0 L1832.4,1687.8 L1829.9,1690.5 L1827.5,1693.2 L1825.1,1695.9 L1822.6,1698.7 L1820.2,1701.4 L1817.7,1704.1 L1815.3,1706.9 L1812.8,1709.6 L1810.4,1712.3 L1807.9,1715.0 L1805.5,1717.8 L1803.0,1720.5 L1800.6,1723.2 L1798.1,1725.9 L1795.7,1728.7 L1793.2,1731.4 L1790.8,1734.1 L1788.4,1736.8 L1785.9,1739.6 L1783.5,1742.3 L1781.0,1745.0 L1778.6,1747.7 L1776.1,1750.5 L1773.7,1753.2 L1771.2,1755.9 L1768.8,1758.6 L1766.5,1761.4 L1764.2,1763.9 L1761.7,1766.4 L1759.3,1768.9 L1756.8,1771.5 L1754.4,1774.0 L1752.0,1776.5 L1749.5,1779.0 L1747.1,1781.5 L1744.6,1784.1 L1742.2,1786.6 L1739.7,1789.1 L1737.3,1791.6 L1734.8,1794.1 L1732.4,1796.6 L1729.9,1799.2 L1727.5,1801.7 L1725.0,1804.2 L1722.6,1806.7 L1720.1,1809.2 L1717.7,1811.8 L1715.3,1814.3 L1712.8,1816.8 L1710.4,1819.3 L1707.9,1821.8 L1705.5,1824.3 L1703.0,1826.9 L1700.6,1829.4 L1698.1,1831.9 L1695.9,1834.4 L1693.6,1836.5 L1691.1,1838.6 L1688.7,1840.8 L1686.3,1843.0 L1683.8,1845.2 L1681.4,1847.3 L1678.9,1849.5 L1676.5,1851.7 L1674.0,1853.9 L1671.6,1856.0 L1669.1,1858.2 L1666.7,1860.4 L1664.2,1862.6 L1661.8,1864.7 L1659.3,1866.9 L1656.9,1869.1 L1654.4,1871.2 L1652.0,1873.4 L1649.6,1875.6 L1647.1,1877.8 L1644.7,1879.9 L1642.2,1882.1 L1639.8,1884.3 L1637.3,1886.5 L1634.9,1888.6 L1632.4,1890.8 L1630.0,1893.0 L1627.5,1895.2 L1625.2,1897.2 L1622.9,1898.9 L1620.5,1900.7 L1618.0,1902.6 L1615.6,1904.4 L1613.1,1906.3 L1610.7,1908.1 L1608.2,1910.0 L1605.8,1911.8 L1603.3,1913.7 L1600.9,1915.5 L1598.4,1917.3 L1596.0,1919.2 L1593.5,1921.0 L1591.1,1922.9 L1588.6,1924.7 L1586.2,1926.6 L1583.8,1928.4 L1581.3,1930.3 L1578.9,1932.1 L1576.4,1934.0 L1574.0,1935.8 L1571.5,1937.6 L1569.1,1939.5 L1566.6,1941.3 L1564.2,1943.2 L1561.7,1945.0 L1559.3,1946.9 L1556.8,1948.7 L1554.5,1950.4 L1552.2,1951.8 L1549.7,1953.4 L1547.3,1954.9 L1544.8,1956.5 L1542.4,1958.1 L1539.9,1959.6 L1537.5,1961.2 L1535.1,1962.8 L1532.6,1964.3 L1530.2,1965.9 L1527.7,1967.5 L1525.3,1969.0 L1522.8,1970.6 L1520.4,1972.2 L1517.9,1973.7 L1515.5,1975.3 L1513.0,1976.9 L1510.6,1978.4 L1508.1,1980.0 L1505.7,1981.6 L1503.2,1983.1 L1500.8,1984.7 L1498.4,1986.3 L1495.9,1987.8 L1493.5,1989.4 L1491.0,1991.0 L1488.6,1992.5 L1486.1,1994.1 L1483.8,1995.4 L1481.6,1996.5 L1479.1,1997.7 L1476.7,1998.9 L1474.3,2000.1 L1471.8,2001.4 L1469.4,2002.6 L1466.9,2003.8 L1464.5,2005.0 L1462.0,2006.3 L1459.6,2007.5 L1457.1,2008.7 L1454.7,2010.0 L1452.2,2011.2 L1449.8,2012.4 L1447.3,2013.6 L1444.9,2014.9 L1442.4,2016.1 L1440.0,2017.3 L1437.6,2018.5 L1435.1,2019.8 L1432.7,2021.0 L1430.2,2022.2 L1427.8,2023.4 L1425.3,2024.7 L1422.9,2025.9 L1420.4,2027.1 L1418.0,2028.3 L1415.5,2029.6 L1413.2,2030.7 L1410.9,2031.7 L1408.4,2032.7 L1406.0,2033.8 L1403.5,2034.9 L1401.1,2035.9 L1398.6,2037.0 L1396.2,2038.1 L1393.7,2039.1 L1391.3,2040.2 L1388.8,2041.3 L1386.4,2042.3 L1383.9,2043.4 L1381.5,2044.4 L1379.1,2045.5 L1376.6,2046.6 L1374.2,2047.6 L1371.7,2048.7 L1369.3,2049.8 L1366.8,2050.8 L1364.4,2051.9 L1361.9,2053.0 L1359.5,2054.0 L1357.0,2055.1 L1354.6,2056.2 L1352.1,2057.2 L1349.7,2058.3 L1347.2,2059.4 L1344.8,2060.4 L1342.5,2061.3 L1340.3,2062.0 L1337.9,2062.8 L1335.4,2063.6 L1333.0,2064.4 L1330.5,2065.2 L1328.1,2066.1 L1325.6,2066.9 L1323.2,2067.7 L1320.7,2068.5 L1318.3,2069.3 L1315.8,2070.1 L1313.4,2070.9 L1310.9,2071.7 L1308.5,2072.5 L1306.1,2073.3 L1303.6,2074.1 L1301.2,2074.9 L1298.7,2075.8 L1296.3,2076.6 L1293.8,2077.4 L1291.4,2078.2 L1288.9,2079.0 L1286.5,2079.8 L1284.0,2080.6 L1281.6,2081.4 L1279.1,2082.2 L1276.7,2083.0 L1274.3,2083.8 L1272.0,2084.5 L1269.8,2084.9 L1267.4,2085.5 L1264.9,2086.1 L1262.5,2086.6 L1260.0,2087.2 L1257.6,2087.7 L1255.1,2088.3 L1252.7,2088.9 L1250.2,2089.4 L1247.8,2090.0 L1245.3,2090.5 L1242.9,2091.1 L1240.5,2091.6 L1238.0,2092.2 L1235.6,2092.8 L1233.1,2093.3 L1230.7,2093.9 L1228.2,2094.4 L1225.8,2095.0 L1223.3,2095.6 L1220.9,2096.1 L1218.4,2096.7 L1216.0,2097.2 L1213.5,2097.8 L1211.1,2098.3 L1208.6,2098.9 L1206.2,2099.5 L1203.8,2100.0 L1201.5,2100.5 L1199.2,2100.8 L1196.8,2101.1 L1194.4,2101.5 L1191.9,2101.9 L1189.5,2102.2 L1187.0,2102.6 L1184.6,2103.0 L1182.1,2103.3 L1179.7,2103.7 L1177.2,2104.1 L1174.8,2104.4 L1172.3,2104.8 L1169.9,2105.2 L1167.4,2105.5 L1165.0,2105.9 L1162.5,2106.3 L1160.1,2106.6 L1157.7,2107.0 L1155.2,2107.4 L1152.8,2107.7 L1150.3,2108.1 L1147.9,2108.5 L1145.4,2108.8 L1143.0,2109.2 L1140.5,2109.6 L1138.1,2109.9 L1135.6,2110.3 L1133.2,2110.7 L1130.9,2111.0 L1128.6,2111.2 L1126.1,2111.4 L1123.7,2111.6 L1121.2,2111.8 L1118.8,2112.1 L1116.4,2112.3 L1113.9,2112.5 L1111.5,2112.8 L1109.0,2113.0 L1106.6,2113.2 L1104.1,2113.4 L1101.7,2113.7 L1099.2,2113.9 L1096.8,2114.1 L1094.3,2114.4 L1091.9,2114.6 L1089.4,2114.8 L1087.0,2115.0 L1084.6,2115.3 L1082.1,2115.5 L1079.7,2115.7 L1077.2,2116.0 L1074.8,2116.2 L1072.3,2116.4 L1069.9,2116.6 L1067.4,2116.9 L1065.0,2117.1 L1062.5,2117.3 L1060.2,2117.5 L1057.8,2117.7 L1055.4,2117.8 L1052.9,2118.0 L1050.5,2118.1 L1048.0,2118.3 L1045.6,2118.4 L1043.1,2118.6 L1040.7,2118.7 L1038.2,2118.9 L1035.8,2119.1 L1033.3,2119.2 L1030.9,2119.4 L1028.4,2119.5 L1026.0,2119.7 L1023.5,2119.8 L1021.1,2120.0 L1018.7,2120.1 L1016.2,2120.3 L1013.8,2120.5 L1011.3,2120.6 L1008.9,2120.8 L1006.4,2120.9 L1004.0,2121.1 L1001.5,2121.2 L999.1,2121.4 L996.6,2121.5 L994.2,2121.7 L991.7,2121.9 L989.3,2122.0 L986.8,2122.2 L984.3,2122.4 L981.9,2122.6 L979.5,2122.8 L977.0,2122.9 L974.6,2123.1 L972.1,2123.3 L969.7,2123.5 L967.2,2123.7 L964.8,2123.8 L962.3,2124.0 L959.9,2124.2 L957.4,2124.4 L955.0,2124.6 L952.5,2124.7 L950.1,2124.9 L947.7,2125.1 L945.2,2125.3 L942.8,2125.5 L940.3,2125.6 L937.9,2125.8 L935.4,2126.0 L933.0,2126.2 L930.5,2126.4 L928.1,2126.5 L925.6,2126.7 L923.2,2126.9 L920.7,2127.1 L918.3,2127.3 L915.9,2127.4 L913.4,2127.6 L911.0,2127.8 L908.5,2127.9 L906.1,2128.1 L903.6,2128.3 L901.2,2128.4 L898.7,2128.6 L896.3,2128.8 L893.8,2129.0 L891.4,2129.1 L889.0,2129.3 L886.5,2129.5 L884.1,2129.6 L881.6,2129.8 L879.2,2130.0 L876.7,2130.2 L874.3,2130.3 L871.8,2130.5 L869.4,2130.7 L866.9,2130.8 L864.5,2131.0 L862.0,2131.2 L859.6,2131.4 L857.1,2131.5 L854.7,2131.7 L852.3,2131.9 L849.8,2132.0 L847.5,2132.2 L845.2,2132.2 L842.8,2132.2 L840.3,2132.2 L837.9,2132.3 L835.4,2132.3 L833.0,2132.4 L830.5,2132.4 L828.1,2132.4 L825.6,2132.5 L823.2,2132.5 L820.8,2132.5 L818.3,2132.6 L815.9,2132.6 L813.4,2132.6 L811.0,2132.7 L808.5,2132.7 L806.1,2132.7 L803.6,2132.8 L801.2,2132.8 L798.7,2132.9 L796.3,2132.9 L793.8,2132.9 L791.4,2133.0 L788.9,2133.0 L786.5,2133.0 L784.1,2133.1 L781.6,2133.1 L779.2,2133.1 L776.8,2133.2 L774.4,2133.1 L772.0,2133.1 L769.5,2133.1 L767.1,2133.0 L764.7,2133.0 L762.2,2133.0 L759.8,2132.9 L757.3,2132.9 L754.9,2132.9 L752.4,2132.8 L750.0,2132.8 L747.5,2132.7 L745.1,2132.7 L742.6,2132.7 L740.2,2132.6 L737.7,2132.6 L735.3,2132.6 L732.8,2132.5 L730.4,2132.5 L728.0,2132.4 L725.5,2132.4 L723.1,2132.4 L720.6,2132.3 L718.2,2132.3 L715.7,2132.3 L713.3,2132.2 L710.8,2132.2 L708.4,2132.2 L705.9,2132.1 L703.4,2132.1 L700.9,2132.2 L698.5,2132.2 L696.0,2132.2 L693.6,2132.2 L691.1,2132.2 L688.7,2132.3 L686.2,2132.3 L683.8,2132.3 L681.3,2132.3 L678.9,2132.4 L676.4,2132.4 L674.0,2132.4 L671.5,2132.4 L669.1,2132.4 L666.7,2132.5 L664.2,2132.5 L661.8,2132.5 L659.3,2132.5 L656.9,2132.6 L654.4,2132.6 L652.0,2132.6 L649.5,2132.6 L647.1,2132.6 L644.6,2132.7 L642.2,2132.7 L639.7,2132.7 L637.3,2132.7 L634.9,2132.8 L632.4,2132.8 L630.0,2132.8 L627.5,2132.8 L625.1,2132.8 L622.6,2132.8 L620.2,2132.8 L617.7,2132.8 L615.3,2132.9 L612.9,2132.9 L610.4,2132.9 L608.0,2132.9 L605.5,2132.9 L603.1,2132.9 L600.6,2132.9 L598.2,2133.0 L595.7,2133.0 L593.3,2133.0 L590.8,2133.0 L588.4,2133.0 L585.9,2133.0 L583.5,2133.0 L581.0,2133.0 L578.6,2133.1 L576.2,2133.1 L573.7,2133.1 L571.3,2133.1 L568.8,2133.1 L566.4,2133.1 L563.9,2133.1 L561.5,2133.1 L559.0,2133.1 L556.6,2133.2 L554.1,2133.2 L551.7,2133.2 L549.3,2133.2 L546.8,2133.2 L544.4,2133.2 L541.9,2133.2 L539.5,2133.2 L537.0,2133.2 L534.6,2133.2 L532.1,2133.2 L529.7,2133.2 L527.2,2133.2 L524.8,2133.3 L522.3,2133.3 L519.9,2133.3 L517.4,2133.3 L515.0,2133.3 L512.6,2133.3 L510.1,2133.3 L507.7,2133.3 L505.2,2133.3 L502.8,2133.3 L500.3,2133.3 L497.9,2133.3 L495.4,2133.3 L493.0,2133.4 L490.5,2133.4 L488.1,2133.4 L485.7,2133.4 L483.2,2133.4 L480.8,2133.4 L478.3,2133.4 L475.9,2133.4 L473.4,2133.4 L471.0,2133.4 L468.5,2133.4 L466.1,2133.4 L463.6,2133.4 L461.2,2133.4 L458.7,2133.4 L456.3,2133.4 L453.8,2133.4 L451.4,2133.4 L449.0,2133.4 L446.5,2133.4 L444.1,2133.4 L441.6,2133.4 L439.2,2133.4 L436.7,2133.5 L434.3,2133.5 L431.8,2133.5 L429.4,2133.5 L426.9,2133.5 L424.5,2133.5 L422.0,2133.5 L419.6,2133.5 L417.2,2133.5 L414.7,2133.5 L412.3,2133.5 L409.8,2133.5 L407.4,2133.5 L404.9,2133.5 L402.5,2133.5 L400.0,2133.5 L397.6,2133.5 L395.1,2133.5 L392.7,2133.5 L390.2,2133.5 L387.8,2133.5 L385.3,2133.5 L382.9,2133.5 L380.5,2133.5 L378.0,2133.5 L375.6,2133.5 L373.1,2133.5 L370.7,2133.5 L368.2,2133.5 L365.8,2133.5 L363.3,2133.5 L360.9,2133.5 L358.4,2133.5 L356.0,2133.5 L353.5,2133.5 L351.1,2133.5 L348.7,2133.6 L346.2,2133.6 L343.8,2133.6 L341.3,2133.6 L338.9,2133.6 L336.4,2133.6 L334.0,2133.6 L331.5,2133.6 L329.1,2133.6 L326.6,2133.6 L324.2,2133.6 L321.7,2133.6 L319.3,2133.6 L316.8,2133.6 L314.4,2133.6 L312.0,2133.6 L309.5,2133.6 L307.1,2133.6 L304.6,2133.6 L302.2,2133.6 L299.7,2133.6 L297.3,2133.6 L294.8,2133.6 L292.4,2133.6 L289.9,2133.6 L287.5,2133.6 L285.0,2133.6 L282.6,2133.6 L280.1,2133.6 L277.7,2133.6 L275.3,2133.6 L272.8,2133.6 L270.4,2133.6 L267.9,2133.6 L265.5,2133.6 L263.0,2133.6 L260.6,2133.6 L258.1,2133.6 L255.7,2133.6 L253.2,2133.6 L250.8,2133.6 L248.3,2133.6 L245.9,2133.6 L243.4,2133.6 L241.0,2133.6 L238.6,2133.6 L236.1,2133.6 L233.7,2133.6 L231.2,2133.6 L228.8,2133.6 L226.3,2133.6 L223.9,2133.6 L221.4,2133.6 L219.0,2133.6 L216.5,2133.6 L214.1,2133.6 L211.6,2133.6 L209.2,2133.6 Z"/>
</g>
<g fill="none" stroke="#000" stroke-width="7.0" stroke-linejoin="miter">
<path d="M209.2,2125.7 L224.7,2149.3 L193.7,2149.3 Z"/>
<path d="M280.1,2125.7 L295.6,2149.3 L264.6,2149.3 Z"/>
<path d="M351.1,2125.7 L366.6,2149.3 L335.6,2149.3 Z"/>
<path d="M422.1,2125.7 L437.6,2149.3 L406.6,2149.3 Z"/>
<path d="M493.0,2125.7 L508.5,2149.3 L477.5,2149.3 Z"/>
<path d="M564.0,2125.7 L579.5,2149.3 L548.5,2149.3 Z"/>
<path d="M634.9,2122.8 L650.4,2146.4 L619.4,2146.4 Z"/>
<path d="M705.9,2121.3 L721.4,2144.9 L690.4,2144.9 Z"/>
<path d="M776.8,2117.7 L792.3,2141.3 L761.3,2141.3 Z"/>
<path d="M847.8,2110.2 L863.2,2133.8 L832.2,2133.8 Z"/>
<path d="M918.7,2102.8 L934.2,2126.4 L903.2,2126.4 Z"/>
<path d="M989.7,2084.9 L1005.2,2108.5 L974.2,2108.5 Z"/>
<path d="M1060.6,2054.8 L1076.1,2078.4 L1045.1,2078.4 Z"/>
<path d="M1131.5,2005.7 L1147.0,2029.3 L1116.0,2029.3 Z"/>
<path d="M1202.5,1938.8 L1218.0,1962.4 L1187.0,1962.4 Z"/>
<path d="M1273.5,1856.0 L1289.0,1879.6 L1258.0,1879.6 Z"/>
<path d="M1344.4,1759.0 L1359.9,1782.6 L1328.9,1782.6 Z"/>
<path d="M1415.4,1653.9 L1430.9,1677.5 L1399.9,1677.5 Z"/>
<path d="M1486.3,1536.8 L1501.8,1560.4 L1470.8,1560.4 Z"/>
<path d="M1557.2,1414.1 L1572.8,1437.7 L1541.8,1437.7 Z"/>
<path d="M1628.2,1284.1 L1643.7,1307.7 L1612.7,1307.7 Z"/>
<path d="M1699.2,1158.3 L1714.7,1181.9 L1683.7,1181.9 Z"/>
<path d="M1770.1,1026.3 L1785.6,1049.9 L1754.6,1049.9 Z"/>
<path d="M1841.1,890.6 L1856.6,914.2 L1825.6,914.2 Z"/>
<path d="M1912.0,760.0 L1927.5,783.6 L1896.5,783.6 Z"/>
<path d="M1983.0,633.7 L1998.5,657.3 L1967.5,657.3 Z"/>
<path d="M2053.9,520.5 L2069.4,544.1 L2038.4,544.1 Z"/>
<path d="M2124.8,426.6 L2140.3,450.2 L2109.3,450.2 Z"/>
<path d="M2195.8,351.8 L2211.3,375.4 L2180.3,375.4 Z"/>
<path d="M2266.8,287.6 L2282.2,311.2 L2251.2,311.2 Z"/>
<path d="M2337.7,242.8 L2353.2,266.4 L2322.2,266.4 Z"/>
<path d="M2408.7,204.8 L2424.2,228.4 L2393.2,228.4 Z"/>
</g>
<rect x="160" y="2118" width="39" height="50" fill="#fff"/>
<g fill="none" stroke="#000" stroke-width="3.75" stroke-linecap="butt">
<rect x="212.8" y="46.1" width="2198.0" height="2096.9"/>
<path d="M430.6,2143.0 v-24.0 M430.6,46.1 v20.6"/>
<path d="M650.4,2143.0 v-24.0 M650.4,46.1 v20.6"/>
<path d="M870.2,2143.0 v-24.0 M870.2,46.1 v20.6"/>
<path d="M1090.1,2143.0 v-24.0 M1090.1,46.1 v20.6"/>
<path d="M1310.0,2143.0 v-24.0 M1310.0,46.1 v20.6"/>
<path d="M1529.8,2143.0 v-24.0 M1529.8,46.1 v20.6"/>
<path d="M1749.7,2143.0 v-24.0 M1749.7,46.1 v20.6"/>
<path d="M1969.5,2143.0 v-24.0 M1969.5,46.1 v20.6"/>
<path d="M2189.3,2143.0 v-24.0 M2189.3,46.1 v20.6"/>
<path d="M212.8,1842.9 h20.7 M2410.8,1842.9 h-23.8"/>
<path d="M212.8,1542.8 h20.7 M2410.8,1542.8 h-23.8"/>
<path d="M212.8,1242.7 h20.7 M2410.8,1242.7 h-23.8"/>
<path d="M212.8,942.6 h20.7 M2410.8,942.6 h-23.8"/>
<path d="M212.8,642.5 h20.7 M2410.8,642.5 h-23.8"/>
<path d="M212.8,342.4 h20.7 M2410.8,342.4 h-23.8"/>
</g>
<text class="b" transform="translate(216.6,2206.8) scale(1.085,1.0)" font-size="55.3" text-anchor="middle">0</text>
<text class="b" transform="translate(430.2,2206.8) scale(1.085,1.0)" font-size="55.3" text-anchor="middle">50</text>
<text class="b" transform="translate(651.5,2206.8) scale(1.085,1.0)" font-size="55.3" text-anchor="middle">100</text>
<text class="b" transform="translate(868.2,2206.8) scale(1.085,1.0)" font-size="55.3" text-anchor="middle">150</text>
<text class="b" transform="translate(1090.7,2206.8) scale(1.085,1.0)" font-size="55.3" text-anchor="middle">200</text>
<text class="b" transform="translate(1313.0,2206.8) scale(1.085,1.0)" font-size="55.3" text-anchor="middle">250</text>
<text class="b" transform="translate(1530.1,2206.8) scale(1.085,1.0)" font-size="55.3" text-anchor="middle">300</text>
<text class="b" transform="translate(1751.8,2206.8) scale(1.085,1.0)" font-size="55.3" text-anchor="middle">350</text>
<text class="b" transform="translate(1969.1,2206.8) scale(1.085,1.0)" font-size="55.3" text-anchor="middle">400</text>
<text class="b" transform="translate(2190.5,2206.8) scale(1.085,1.0)" font-size="55.3" text-anchor="middle">450</text>
<text class="b" transform="translate(2411.3,2206.8) scale(1.085,1.0)" font-size="55.3" text-anchor="middle">500</text>
<text class="b" transform="translate(200.1,2160.6) scale(1.085,1.0)" font-size="55.3" text-anchor="end">0</text>
<text class="b" transform="translate(200.1,1861.0) scale(1.085,1.0)" font-size="55.3" text-anchor="end">5</text>
<text class="b" transform="translate(200.1,1561.4) scale(1.085,1.0)" font-size="55.3" text-anchor="end">10</text>
<text class="b" transform="translate(200.1,1261.8) scale(1.085,1.0)" font-size="55.3" text-anchor="end">15</text>
<text class="b" transform="translate(200.1,962.2) scale(1.085,1.0)" font-size="55.3" text-anchor="end">20</text>
<text class="b" transform="translate(200.1,662.6) scale(1.085,1.0)" font-size="55.3" text-anchor="end">25</text>
<text class="b" transform="translate(200.1,363.0) scale(1.085,1.0)" font-size="55.3" text-anchor="end">30</text>
<text class="b" transform="translate(200.1,63.4) scale(1.085,1.0)" font-size="55.3" text-anchor="end">35</text>
<text class="t" x="1214" y="2283.2" font-size="63" textLength="183" lengthAdjust="spacingAndGlyphs">time(s)</text>
<g transform="translate(64.7,1359.5) rotate(-90)"><text class="t" x="-1.5" y="0" font-size="63" textLength="273" lengthAdjust="spacingAndGlyphs">Lethality F</text><text class="t" x="264" y="30" font-size="46.9" textLength="25" lengthAdjust="spacingAndGlyphs">0</text><text class="t" x="289" y="0" font-size="63" textLength="251.5" lengthAdjust="spacingAndGlyphs">(minutes)</text></g>
<rect x="238.9" y="72.3" width="476.9" height="341.3" fill="#fff" stroke="#000" stroke-width="3.75"/>
<g fill="none" stroke="#000">
<path d="M267.3,130.6 H420.8" stroke-width="7"/>
<path d="M341.9,118.4 L357.4,142.0 L326.4,142.0 Z" stroke-width="7.0" stroke-linejoin="miter"/>
<path d="M281.9,241.3 H319.7 M334.8,241.3 H372.2 M387.2,241.3 H420.8" stroke-width="11.2"/>
<path d="M267.3,349.9 H420.8" stroke-width="11.2"/>
</g>
<text class="b" transform="translate(431.4,141.2) scale(1.03,1.0)" font-size="63.5" text-anchor="start" style="stroke-width:0.6px">L</text>
<text class="" transform="translate(466.6,171.3) scale(1.2,1.0)" font-size="41.5" text-anchor="start">p</text>
<text class="" transform="translate(493.2,141.2) scale(1.08,0.78)" font-size="56" text-anchor="start" stroke="#000" stroke-width="1">=</text>
<text class="b" transform="translate(525.5,140.9) scale(1.085,1.0)" font-size="55.3" text-anchor="start">10</text>
<text class="b" transform="translate(593.4,140.9) scale(1.07,1.0)" font-size="55.3" text-anchor="start" style="letter-spacing:0;stroke-width:1.7px">mm</text>
<text class="b" transform="translate(431.4,249.8) scale(1.03,1.0)" font-size="63.5" text-anchor="start" style="stroke-width:0.6px">L</text>
<text class="" transform="translate(466.6,279.9) scale(1.2,1.0)" font-size="41.5" text-anchor="start">p</text>
<text class="" transform="translate(493.2,249.8) scale(1.08,0.78)" font-size="56" text-anchor="start" stroke="#000" stroke-width="1">=</text>
<text class="b" transform="translate(525.5,249.5) scale(1.085,1.0)" font-size="55.3" text-anchor="start">12</text>
<text class="b" transform="translate(593.4,249.5) scale(1.07,1.0)" font-size="55.3" text-anchor="start" style="letter-spacing:0;stroke-width:1.7px">mm</text>
<text class="b" transform="translate(431.4,358.0) scale(1.03,1.0)" font-size="63.5" text-anchor="start" style="stroke-width:0.6px">L</text>
<text class="" transform="translate(466.6,388.1) scale(1.2,1.0)" font-size="41.5" text-anchor="start">p</text>
<text class="" transform="translate(493.2,358.0) scale(1.08,0.78)" font-size="56" text-anchor="start" stroke="#000" stroke-width="1">=</text>
<text class="b" transform="translate(525.5,357.7) scale(1.085,1.0)" font-size="55.3" text-anchor="start">15</text>
<text class="b" transform="translate(593.4,357.7) scale(1.07,1.0)" font-size="55.3" text-anchor="start" style="letter-spacing:0;stroke-width:1.7px">mm</text>
</svg></body></html>
